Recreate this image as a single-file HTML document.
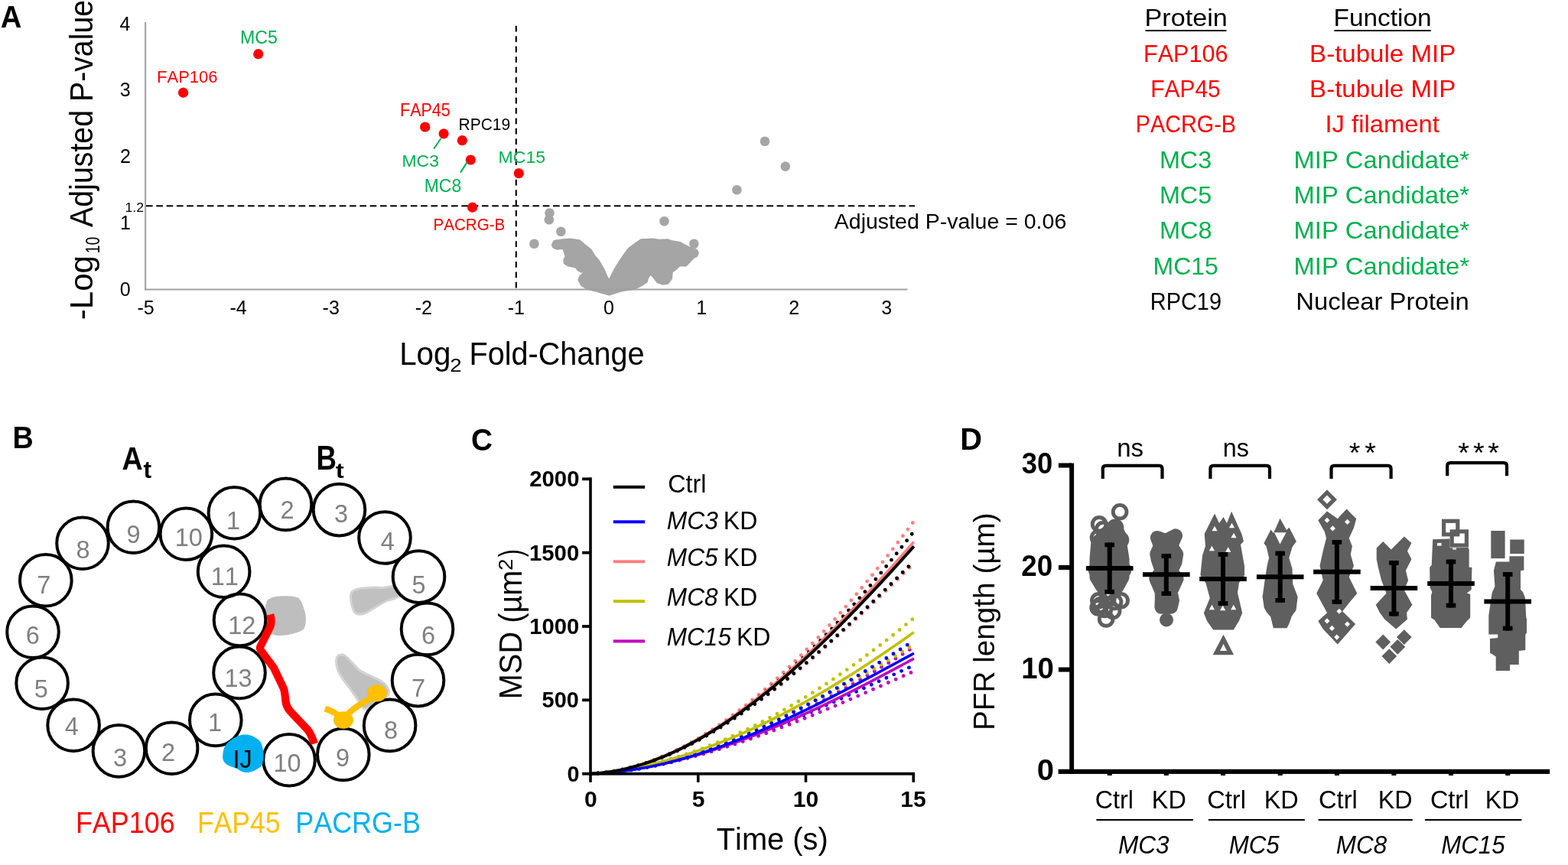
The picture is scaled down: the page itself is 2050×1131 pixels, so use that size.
<!DOCTYPE html>
<html><head><meta charset="utf-8"><title>Figure</title>
<style>html,body{margin:0;padding:0;background:#fff;}svg{display:block;}text{font-family:"Liberation Sans", sans-serif;font-kerning:none;}</style>
</head><body>
<svg width="2050" height="1131" viewBox="0 0 2050 1131">
<rect width="2050" height="1131" fill="#fff"/>
<text x="0.65" y="36" font-size="40.41" fill="#000" font-weight="bold" textLength="27.56" lengthAdjust="spacingAndGlyphs">A</text>
<path d="M721.8,319.9 L724.2,315.1 L728.2,314.3 L737,312.7 L745.7,312.3 L757.6,313.9 L765.6,320.7 L772.8,326.3 L777.5,334.2 L783.1,340.6 L789.5,351.7 L793.4,360.5 L796.3,366 L801.4,355.7 L803.5,351.7 L809.9,341.4 L816.3,331.8 L821.8,324.7 L828.2,319.9 L837.7,313.1 L853.6,312.3 L861.6,313.5 L873.5,313.1 L879.1,315.1 L889.4,316.7 L893.4,319.1 L901.4,323.1 L908,325 L912.9,331 L903,341.4 L897,347.7 L888.6,347.7 L883.9,352.5 L879.1,355.7 L878.3,364.4 L873.5,370.8 L866.4,372 L859.2,369.2 L853.6,362 L850.5,358.9 L847.3,363.6 L845.7,369.2 L837.7,374 L829.8,378 L813.9,380.4 L805.9,382.7 L797.2,385.5 L796.2,385.9 L785.5,382.8 L777.5,380.4 L767.2,378 L760,373.2 L756,366 L758.4,360.5 L764,355.7 L759.2,355.7 L755.2,353.3 L752.9,350.1 L747.3,348.5 L742.5,347.7 L737.7,344.6 L737,339.8 L739.3,335 L737.7,330.2 L736.2,325.5 L732.2,325.5 L727.8,325.9 L722.6,323.1 Z" fill="#a5a5a5" stroke="#a5a5a5" stroke-width="1.5" stroke-linejoin="round"/>
<circle cx="718.5" cy="278.5" r="6.3" fill="#a5a5a5"/>
<circle cx="717.8" cy="287.3" r="6.3" fill="#a5a5a5"/>
<circle cx="733.4" cy="302.8" r="6.3" fill="#a5a5a5"/>
<circle cx="698.4" cy="318.7" r="6.3" fill="#a5a5a5"/>
<circle cx="868.5" cy="289.2" r="6.3" fill="#a5a5a5"/>
<circle cx="907.3" cy="318.7" r="6.3" fill="#a5a5a5"/>
<circle cx="907.3" cy="331" r="6.3" fill="#a5a5a5"/>
<circle cx="1000" cy="184.7" r="6.3" fill="#a5a5a5"/>
<circle cx="1026.8" cy="217.6" r="6.3" fill="#a5a5a5"/>
<circle cx="963.4" cy="248.3" r="6.3" fill="#a5a5a5"/>
<circle cx="727.8" cy="319.9" r="6.3" fill="#a5a5a5"/>
<line x1="190.1" y1="29" x2="190.1" y2="379.5" stroke="#a0a0a0" stroke-width="2"/>
<line x1="189.1" y1="378.6" x2="1186.4" y2="378.6" stroke="#a0a0a0" stroke-width="2"/>
<line x1="191" y1="269.3" x2="1196" y2="269.3" stroke="#000" stroke-width="2" stroke-dasharray="8.7 4.6"/>
<line x1="674.8" y1="33.8" x2="674.8" y2="381.4" stroke="#000" stroke-width="2.1" stroke-dasharray="7.8 5.6"/>
<text x="156.67" y="387.1" font-size="25" fill="#000" >0</text>
<text x="156.92" y="300.2" font-size="25" fill="#000" >1</text>
<text x="156.95" y="213.3" font-size="25" fill="#000" >2</text>
<text x="156.79" y="126.4" font-size="25" fill="#000" >3</text>
<text x="156.43" y="39.5" font-size="25" fill="#000" >4</text>
<text x="190.5" y="411" font-size="25" text-anchor="middle">-5</text>
<text x="311.6" y="411" font-size="25" text-anchor="middle">-4</text>
<text x="432.7" y="411" font-size="25" text-anchor="middle">-3</text>
<text x="553.8" y="411" font-size="25" text-anchor="middle">-2</text>
<text x="674.9" y="411" font-size="25" text-anchor="middle">-1</text>
<text x="796" y="411" font-size="25" text-anchor="middle">0</text>
<text x="917.1" y="411" font-size="25" text-anchor="middle">1</text>
<text x="1038.2" y="411" font-size="25" text-anchor="middle">2</text>
<text x="1159.3" y="411" font-size="25" text-anchor="middle">3</text>
<text x="163.46" y="276.5" font-size="16.72" fill="#000"  textLength="24.53" lengthAdjust="spacingAndGlyphs">1.2</text>
<circle cx="239.6" cy="121.2" r="6.6" fill="#ff0000"/>
<circle cx="337.7" cy="70.7" r="6.6" fill="#ff0000"/>
<circle cx="555.7" cy="166" r="6.6" fill="#ff0000"/>
<circle cx="580.1" cy="174.8" r="6.6" fill="#ff0000"/>
<circle cx="604.3" cy="183.7" r="6.6" fill="#ff0000"/>
<circle cx="615.3" cy="209" r="6.6" fill="#ff0000"/>
<circle cx="678.3" cy="226.6" r="6.6" fill="#ff0000"/>
<circle cx="617.6" cy="271.2" r="6.6" fill="#ff0000"/>
<text x="314.1" y="56.6" font-size="23.69" fill="#00b050"  textLength="48.87" lengthAdjust="spacingAndGlyphs">MC5</text>
<text x="205.1" y="108.2" font-size="22.24" fill="#ff0000"  textLength="79.47" lengthAdjust="spacingAndGlyphs">FAP106</text>
<text x="523.04" y="151.8" font-size="23.11" fill="#ff0000"  textLength="65.77" lengthAdjust="spacingAndGlyphs">FAP45</text>
<text x="599.48" y="170.4" font-size="22.38" fill="#000"  textLength="67.72" lengthAdjust="spacingAndGlyphs">RPC19</text>
<text x="525.52" y="217.8" font-size="22.67" fill="#00b050"  textLength="48.39" lengthAdjust="spacingAndGlyphs">MC3</text>
<text x="554.72" y="250.9" font-size="23.11" fill="#00b050"  textLength="48.48" lengthAdjust="spacingAndGlyphs">MC8</text>
<text x="651.61" y="213.4" font-size="22.67" fill="#00b050"  textLength="61.56" lengthAdjust="spacingAndGlyphs">MC15</text>
<text x="566.41" y="300.7" font-size="22.24" fill="#ff0000"  textLength="93.88" lengthAdjust="spacingAndGlyphs">PACRG-B</text>
<text x="1090.84" y="299" font-size="28.34" fill="#000"  textLength="303.41" lengthAdjust="spacingAndGlyphs">Adjusted P-value = 0.06</text>
<line x1="576.4" y1="181" x2="567.2" y2="194.6" stroke="#00b050" stroke-width="2"/>
<line x1="611" y1="211.6" x2="602" y2="225.6" stroke="#00b050" stroke-width="2"/>
<text x="522.19" y="477.1" font-size="42.15" fill="#000"  textLength="67.31" lengthAdjust="spacingAndGlyphs">Log</text>
<text x="588.21" y="486.4" font-size="24.64" fill="#000"  textLength="15.38" lengthAdjust="spacingAndGlyphs">2</text>
<text x="613.55" y="477.1" font-size="42.15" fill="#000"  textLength="228.91" lengthAdjust="spacingAndGlyphs">Fold-Change</text>
<text transform="translate(121.3,416.5) rotate(-90)" x="-1.87" y="0" font-size="42.44" fill="#000" textLength="84.39" lengthAdjust="spacingAndGlyphs">-Log</text>
<text transform="translate(130,330) rotate(-90)" x="-1.49" y="0" font-size="26.36" fill="#000" textLength="21.75" lengthAdjust="spacingAndGlyphs">10</text>
<text transform="translate(120.8,296.8) rotate(-90)" x="-0.08" y="0" font-size="42.15" fill="#000" textLength="297.02" lengthAdjust="spacingAndGlyphs">Adjusted P-value</text>
<text x="1496.5" y="34.4" font-size="31.69" fill="#000"  textLength="108.22" lengthAdjust="spacingAndGlyphs">Protein</text>
<text x="1743.56" y="34.4" font-size="31.69" fill="#000"  textLength="128.01" lengthAdjust="spacingAndGlyphs">Function</text>
<text x="1494.99" y="80.7" font-size="31.69" fill="#ff0000"  textLength="110.45" lengthAdjust="spacingAndGlyphs">FAP106</text>
<text x="1712.09" y="80.7" font-size="31.69" fill="#ff0000"  textLength="191.16" lengthAdjust="spacingAndGlyphs">B-tubule MIP</text>
<text x="1504.24" y="127" font-size="31.69" fill="#ff0000"  textLength="91.51" lengthAdjust="spacingAndGlyphs">FAP45</text>
<text x="1712.09" y="127" font-size="31.69" fill="#ff0000"  textLength="191.16" lengthAdjust="spacingAndGlyphs">B-tubule MIP</text>
<text x="1484.84" y="173.3" font-size="31.69" fill="#ff0000"  textLength="131.08" lengthAdjust="spacingAndGlyphs">PACRG-B</text>
<text x="1732.48" y="173.3" font-size="31.69" fill="#ff0000"  textLength="149.26" lengthAdjust="spacingAndGlyphs">IJ filament</text>
<text x="1515.95" y="219.6" font-size="31.69" fill="#00b050"  textLength="68.27" lengthAdjust="spacingAndGlyphs">MC3</text>
<text x="1691.51" y="219.6" font-size="31.69" fill="#00b050"  textLength="229.5" lengthAdjust="spacingAndGlyphs">MIP Candidate*</text>
<text x="1515.95" y="265.9" font-size="31.69" fill="#00b050"  textLength="68.21" lengthAdjust="spacingAndGlyphs">MC5</text>
<text x="1691.51" y="265.9" font-size="31.69" fill="#00b050"  textLength="229.5" lengthAdjust="spacingAndGlyphs">MIP Candidate*</text>
<text x="1515.93" y="312.2" font-size="31.69" fill="#00b050"  textLength="68.68" lengthAdjust="spacingAndGlyphs">MC8</text>
<text x="1691.51" y="312.2" font-size="31.69" fill="#00b050"  textLength="229.5" lengthAdjust="spacingAndGlyphs">MIP Candidate*</text>
<text x="1507.47" y="358.5" font-size="31.69" fill="#00b050"  textLength="85.37" lengthAdjust="spacingAndGlyphs">MC15</text>
<text x="1691.51" y="358.5" font-size="31.69" fill="#00b050"  textLength="229.5" lengthAdjust="spacingAndGlyphs">MIP Candidate*</text>
<text x="1503.83" y="404.8" font-size="31.69" fill="#000"  textLength="93.14" lengthAdjust="spacingAndGlyphs">RPC19</text>
<text x="1694.3" y="404.8" font-size="31.69" fill="#000"  textLength="226.43" lengthAdjust="spacingAndGlyphs">Nuclear Protein</text>
<rect x="1497.5" y="39" width="105.9" height="2" fill="#000"/>
<rect x="1744.4" y="39" width="126.3" height="2" fill="#000"/>
<text x="16.48" y="586" font-size="40.41" fill="#000" font-weight="bold" textLength="27.24" lengthAdjust="spacingAndGlyphs">B</text>
<text x="159.56" y="613.7" font-size="42.44" fill="#000" font-weight="bold" textLength="27.13" lengthAdjust="spacingAndGlyphs">A</text>
<text x="187.41" y="625.4" font-size="32.07" fill="#000" font-weight="bold" textLength="10.58" lengthAdjust="spacingAndGlyphs">t</text>
<text x="413.55" y="614.3" font-size="43.9" fill="#000" font-weight="bold" textLength="26.41" lengthAdjust="spacingAndGlyphs">B</text>
<text x="438.8" y="625.3" font-size="28.14" fill="#000" font-weight="bold" textLength="11.01" lengthAdjust="spacingAndGlyphs">t</text>
<path d="M347.7,790.3 C349.12,785.7 348.58,784.6 353,782.4 C357.42,780.2 363.08,779.66 369.8,779.3 C376.52,778.94 382,779.46 386.6,780.6 C391.2,781.74 390.68,782 392.8,785 C394.92,788 395.8,791.18 397.2,795.6 C398.6,800.02 399.54,802.32 399.8,807.1 C400.06,811.88 399.72,815.96 398.5,819.5 C397.28,823.04 396.8,823.02 393.7,824.8 C390.6,826.58 388.32,827.16 383,828.4 C377.68,829.64 372.4,830.84 367.1,831 C361.8,831.16 360.32,831 356.5,829.2 C352.68,827.4 350.12,826.76 348,822 C345.88,817.24 345.96,811.74 345.9,805.4 C345.84,799.06 346.28,794.9 347.7,790.3 Z" fill="#bebebe"/>
<path d="M458.4,779.5 C458.12,784.52 460.77,796.88 463.7,800.7 C466.63,804.52 471.88,803.28 476,802.4 C480.12,801.52 483.57,798.13 488.4,795.4 C493.23,792.67 499.4,788.65 505,786 C510.6,783.35 520.05,782.67 522,779.5 C523.95,776.33 520.37,768.83 516.7,767 C513.03,765.17 504.72,768.33 500,768.5 C495.28,768.67 494.17,767.65 488.4,768 C482.63,768.35 470.4,768.68 465.4,770.6 C460.4,772.52 458.68,774.48 458.4,779.5 Z" fill="#c0c0c0" stroke="#d3d3d3" stroke-width="3" stroke-linejoin="round"/>
<path d="M440.7,859 C442.17,856.2 446.28,855.23 449.5,856.4 C452.72,857.57 456.47,862.62 460,866 C463.53,869.38 466.53,873.7 470.7,876.7 C474.87,879.7 480.28,881.63 485,884 C489.72,886.37 495.18,887.98 499,890.9 C502.82,893.82 506.72,898.27 507.9,901.5 C509.08,904.73 508.75,907.65 506.1,910.3 C503.45,912.95 496.72,914.6 492,917.4 C487.28,920.2 481.35,926.8 477.8,927.1 C474.25,927.4 473.93,923.47 470.7,919.2 C467.47,914.93 462.35,907.03 458.4,901.5 C454.45,895.97 449.95,890.72 447,886 C444.05,881.28 441.75,877.7 440.7,873.2 C439.65,868.7 439.23,861.8 440.7,859 Z" fill="#c0c0c0" stroke="#d3d3d3" stroke-width="3" stroke-linejoin="round"/>
<circle cx="281.8" cy="941.4" r="33.8" fill="none" stroke="#000" stroke-width="4"/>
<circle cx="224.6" cy="978.2" r="33.8" fill="none" stroke="#000" stroke-width="4"/>
<circle cx="155.4" cy="981.9" r="33.8" fill="none" stroke="#000" stroke-width="4"/>
<circle cx="96.1" cy="948.2" r="33.8" fill="none" stroke="#000" stroke-width="4"/>
<circle cx="55.1" cy="893.3" r="33.8" fill="none" stroke="#000" stroke-width="4"/>
<circle cx="43" cy="826.2" r="33.8" fill="none" stroke="#000" stroke-width="4"/>
<circle cx="59.8" cy="758.8" r="33.8" fill="none" stroke="#000" stroke-width="4"/>
<circle cx="108" cy="710.3" r="33.8" fill="none" stroke="#000" stroke-width="4"/>
<circle cx="174.4" cy="689.2" r="33.8" fill="none" stroke="#000" stroke-width="4"/>
<circle cx="243.4" cy="698.2" r="33.8" fill="none" stroke="#000" stroke-width="4"/>
<circle cx="292.6" cy="747.2" r="33.8" fill="none" stroke="#000" stroke-width="4"/>
<circle cx="313.5" cy="810.4" r="33.8" fill="none" stroke="#000" stroke-width="4"/>
<circle cx="313" cy="879.4" r="33.8" fill="none" stroke="#000" stroke-width="4"/>
<circle cx="306.4" cy="670.8" r="33.8" fill="none" stroke="#000" stroke-width="4"/>
<circle cx="373.5" cy="659.4" r="33.8" fill="none" stroke="#000" stroke-width="4"/>
<circle cx="443.5" cy="666.6" r="33.8" fill="none" stroke="#000" stroke-width="4"/>
<circle cx="503" cy="703" r="33.8" fill="none" stroke="#000" stroke-width="4"/>
<circle cx="547.5" cy="754.1" r="33.8" fill="none" stroke="#000" stroke-width="4"/>
<circle cx="558.5" cy="822.4" r="33.8" fill="none" stroke="#000" stroke-width="4"/>
<circle cx="546.5" cy="889.6" r="33.8" fill="none" stroke="#000" stroke-width="4"/>
<circle cx="509.6" cy="948.4" r="33.8" fill="none" stroke="#000" stroke-width="4"/>
<circle cx="448.8" cy="986.4" r="33.8" fill="none" stroke="#000" stroke-width="4"/>
<circle cx="378" cy="993.7" r="33.8" fill="none" stroke="#000" stroke-width="4"/>
<text x="272.02" y="956.4" font-size="32.5" fill="#808080" >1</text>
<text x="211.06" y="994.6" font-size="32.5" fill="#808080" >2</text>
<text x="148.06" y="1001.5" font-size="32.5" fill="#808080" >3</text>
<text x="84.67" y="961" font-size="32.5" fill="#808080" >4</text>
<text x="44.79" y="912.2" font-size="32.5" fill="#808080" >5</text>
<text x="33.75" y="842.4" font-size="32.5" fill="#808080" >6</text>
<text x="48.25" y="776.3" font-size="32.5" fill="#808080" >7</text>
<text x="99.46" y="730.2" font-size="32.5" fill="#808080" >8</text>
<text x="165.47" y="709.6" font-size="32.5" fill="#808080" >9</text>
<text x="228.72" y="713.8" font-size="32.5" fill="#808080" >10</text>
<text x="275.68" y="765" font-size="32.5" fill="#808080" >11</text>
<text x="298.3" y="829" font-size="32.5" fill="#808080" >12</text>
<text x="293.4" y="897.7" font-size="32.5" fill="#808080" >13</text>
<text x="295.92" y="691.6" font-size="32.5" fill="#808080" >1</text>
<text x="366.56" y="678.4" font-size="32.5" fill="#808080" >2</text>
<text x="437.06" y="683.4" font-size="32.5" fill="#808080" >3</text>
<text x="497.77" y="718.9" font-size="32.5" fill="#808080" >4</text>
<text x="538.59" y="775.7" font-size="32.5" fill="#808080" >5</text>
<text x="551.05" y="841.5" font-size="32.5" fill="#808080" >6</text>
<text x="537.95" y="911.2" font-size="32.5" fill="#808080" >7</text>
<text x="501.96" y="966.1" font-size="32.5" fill="#808080" >8</text>
<text x="438.97" y="1002.3" font-size="32.5" fill="#808080" >9</text>
<text x="357.42" y="1008.8" font-size="32.5" fill="#808080" >10</text>
<path d="M353.3,803.5 C354.8,809 355.5,814 353,820 L340.3,845.5 C339.5,847.5 340,849 341.5,851 L358,873.2 L371,900.6 C372.5,905 372.8,912 373.6,918 C374.5,923 376,926 379,929.5 L402.5,954.5 C406,959 408.5,965 411,972.5" fill="none" stroke="#ff0000" stroke-width="10.2" stroke-linejoin="round"/>
<path d="M424.8,926.7 Q436,930 446,938" fill="none" stroke="#ffc000" stroke-width="8"/>
<path d="M452,936 Q466,922 488,912" fill="none" stroke="#ffc000" stroke-width="8"/>
<ellipse cx="492.8" cy="906.4" rx="12.9" ry="11.2" fill="#ffc000"/>
<ellipse cx="449" cy="941.5" rx="13" ry="11.3" fill="#ffc000"/>
<path d="M298.4,970.5 C303.72,965.68 310.56,961.44 318.2,960.6 C325.84,959.76 331.52,962.62 336.6,966.3 C341.68,969.98 342.2,973.06 343.6,979 C345,984.94 344.72,990.9 343.6,996 C342.48,1001.1 342.24,1001.68 338,1004.5 C333.76,1007.32 328.34,1010.1 322.4,1010.1 C316.46,1010.1 313.96,1007.04 308.3,1004.5 C302.64,1001.96 297.44,1001.36 294.1,997.4 C290.76,993.44 290.74,990.08 291.6,984.7 C292.46,979.32 293.08,975.32 298.4,970.5 Z" fill="#00b0f0"/>
<text x="304.61" y="1003.6" font-size="32.99" fill="#000"  textLength="25.19" lengthAdjust="spacingAndGlyphs">IJ</text>
<text x="98.95" y="1089.3" font-size="38.37" fill="#ff0000"  textLength="129.72" lengthAdjust="spacingAndGlyphs">FAP106</text>
<text x="257.88" y="1089.3" font-size="38.37" fill="#ffc000"  textLength="108.71" lengthAdjust="spacingAndGlyphs">FAP45</text>
<text x="386.25" y="1089.3" font-size="38.37" fill="#00b0f0"  textLength="163.64" lengthAdjust="spacingAndGlyphs">PACRG-B</text>
<text x="616.11" y="589.4" font-size="41.2" fill="#000" font-weight="bold" textLength="28.06" lengthAdjust="spacingAndGlyphs">C</text>
<path d="M781.85,1011.13 L784.62,1010.93 L787.39,1010.72 L790.16,1010.49 L792.92,1010.25 L795.69,1009.99 L798.46,1009.72 L801.23,1009.43 L803.99,1009.12 L806.76,1008.81 L809.53,1008.47 L812.3,1008.12 L815.07,1007.76 L817.83,1007.38 L820.6,1006.99 L823.37,1006.58 L826.14,1006.16 L828.9,1005.72 L831.67,1005.27 L834.44,1004.81 L837.21,1004.33 L839.98,1003.83 L842.74,1003.32 L845.51,1002.8 L848.28,1002.26 L851.05,1001.71 L853.81,1001.15 L856.58,1000.57 L859.35,999.98 L862.12,999.37 L864.89,998.75 L867.65,998.12 L870.42,997.47 L873.19,996.81 L875.96,996.13 L878.72,995.44 L881.49,994.74 L884.26,994.03 L887.03,993.3 L889.8,992.56 L892.56,991.8 L895.33,991.03 L898.1,990.25 L900.87,989.46 L903.63,988.65 L906.4,987.83 L909.17,987 L911.94,986.16 L914.71,985.3 L917.47,984.43 L920.24,983.55 L923.01,982.65 L925.78,981.74 L928.54,980.82 L931.31,979.89 L934.08,978.95 L936.85,977.99 L939.62,977.02 L942.38,976.04 L945.15,975.05 L947.92,974.05 L950.69,973.03 L953.45,972.01 L956.22,970.97 L958.99,969.92 L961.76,968.85 L964.53,967.78 L967.29,966.7 L970.06,965.6 L972.83,964.49 L975.6,963.38 L978.36,962.25 L981.13,961.11 L983.9,959.96 L986.67,958.79 L989.44,957.62 L992.2,956.44 L994.97,955.24 L997.74,954.04 L1000.51,952.83 L1003.27,951.6 L1006.04,950.36 L1008.81,949.12 L1011.58,947.86 L1014.35,946.6 L1017.11,945.32 L1019.88,944.04 L1022.65,942.74 L1025.42,941.43 L1028.18,940.12 L1030.95,938.79 L1033.72,937.46 L1036.49,936.11 L1039.25,934.76 L1042.02,933.4 L1044.79,932.03 L1047.56,930.64 L1050.33,929.25 L1053.09,927.85 L1055.86,926.45 L1058.63,925.03 L1061.4,923.6 L1064.16,922.17 L1066.93,920.72 L1069.7,919.27 L1072.47,917.81 L1075.24,916.34 L1078,914.87 L1080.77,913.38 L1083.54,911.89 L1086.31,910.38 L1089.07,908.88 L1091.84,907.36 L1094.61,905.83 L1097.38,904.3 L1100.15,902.76 L1102.91,901.21 L1105.68,899.65 L1108.45,898.09 L1111.22,896.52 L1113.98,894.94 L1116.75,893.35 L1119.52,891.76 L1122.29,890.16 L1125.06,888.56 L1127.82,886.94 L1130.59,885.32 L1133.36,883.7 L1136.13,882.06 L1138.89,880.42 L1141.66,878.78 L1144.43,877.12 L1147.2,875.46 L1149.97,873.8 L1152.73,872.13 L1155.5,870.45 L1158.27,868.77 L1161.04,867.08 L1163.8,865.38 L1166.57,863.68 L1169.34,861.97 L1172.11,860.26 L1174.88,858.55 L1177.64,856.82 L1180.41,855.1 L1183.18,853.36 L1185.95,851.62 L1188.71,849.88 L1191.48,848.13 L1194.25,846.38" fill="none" stroke="#c000c0" stroke-width="4.9" stroke-linecap="round" stroke-dasharray="0 10.8"/>
<path d="M781.85,1011.13 L784.62,1010.93 L787.39,1010.72 L790.16,1010.5 L792.92,1010.26 L795.69,1010.01 L798.46,1009.74 L801.23,1009.46 L803.99,1009.16 L806.76,1008.86 L809.53,1008.53 L812.3,1008.19 L815.07,1007.84 L817.83,1007.48 L820.6,1007.1 L823.37,1006.71 L826.14,1006.31 L828.9,1005.89 L831.67,1005.46 L834.44,1005.02 L837.21,1004.56 L839.98,1004.09 L842.74,1003.61 L845.51,1003.12 L848.28,1002.62 L851.05,1002.1 L853.81,1001.57 L856.58,1001.03 L859.35,1000.48 L862.12,999.91 L864.89,999.34 L867.65,998.75 L870.42,998.15 L873.19,997.54 L875.96,996.92 L878.72,996.29 L881.49,995.64 L884.26,994.99 L887.03,994.32 L889.8,993.65 L892.56,992.96 L895.33,992.27 L898.1,991.56 L900.87,990.84 L903.63,990.12 L906.4,989.38 L909.17,988.63 L911.94,987.88 L914.71,987.11 L917.47,986.34 L920.24,985.55 L923.01,984.76 L925.78,983.95 L928.54,983.14 L931.31,982.32 L934.08,981.49 L936.85,980.65 L939.62,979.8 L942.38,978.95 L945.15,978.08 L947.92,977.21 L950.69,976.33 L953.45,975.44 L956.22,974.54 L958.99,973.64 L961.76,972.72 L964.53,971.8 L967.29,970.87 L970.06,969.94 L972.83,969 L975.6,968.04 L978.36,967.09 L981.13,966.12 L983.9,965.15 L986.67,964.17 L989.44,963.18 L992.2,962.19 L994.97,961.19 L997.74,960.19 L1000.51,959.17 L1003.27,958.15 L1006.04,957.13 L1008.81,956.1 L1011.58,955.06 L1014.35,954.02 L1017.11,952.97 L1019.88,951.91 L1022.65,950.85 L1025.42,949.79 L1028.18,948.72 L1030.95,947.64 L1033.72,946.56 L1036.49,945.47 L1039.25,944.38 L1042.02,943.28 L1044.79,942.18 L1047.56,941.07 L1050.33,939.96 L1053.09,938.84 L1055.86,937.72 L1058.63,936.6 L1061.4,935.47 L1064.16,934.34 L1066.93,933.2 L1069.7,932.06 L1072.47,930.91 L1075.24,929.76 L1078,928.61 L1080.77,927.45 L1083.54,926.29 L1086.31,925.12 L1089.07,923.96 L1091.84,922.79 L1094.61,921.61 L1097.38,920.43 L1100.15,919.25 L1102.91,918.07 L1105.68,916.89 L1108.45,915.7 L1111.22,914.5 L1113.98,913.31 L1116.75,912.11 L1119.52,910.91 L1122.29,909.71 L1125.06,908.51 L1127.82,907.3 L1130.59,906.1 L1133.36,904.89 L1136.13,903.67 L1138.89,902.46 L1141.66,901.25 L1144.43,900.03 L1147.2,898.81 L1149.97,897.59 L1152.73,896.37 L1155.5,895.15 L1158.27,893.92 L1161.04,892.7 L1163.8,891.47 L1166.57,890.24 L1169.34,889.02 L1172.11,887.79 L1174.88,886.56 L1177.64,885.33 L1180.41,884.1 L1183.18,882.87 L1185.95,881.64 L1188.71,880.41 L1191.48,879.17 L1194.25,877.94" fill="none" stroke="#c000c0" stroke-width="4.9" stroke-linecap="round" stroke-dasharray="0 10.8"/>
<path d="M781.85,1010.87 L784.62,1010.59 L787.39,1010.31 L790.16,1010 L792.92,1009.68 L795.69,1009.34 L798.46,1008.99 L801.23,1008.62 L803.99,1008.24 L806.76,1007.84 L809.53,1007.42 L812.3,1006.98 L815.07,1006.53 L817.83,1006.07 L820.6,1005.59 L823.37,1005.09 L826.14,1004.58 L828.9,1004.05 L831.67,1003.5 L834.44,1002.94 L837.21,1002.36 L839.98,1001.77 L842.74,1001.16 L845.51,1000.54 L848.28,999.9 L851.05,999.24 L853.81,998.57 L856.58,997.88 L859.35,997.18 L862.12,996.46 L864.89,995.73 L867.65,994.98 L870.42,994.22 L873.19,993.44 L875.96,992.64 L878.72,991.83 L881.49,991.01 L884.26,990.16 L887.03,989.31 L889.8,988.44 L892.56,987.55 L895.33,986.65 L898.1,985.73 L900.87,984.8 L903.63,983.85 L906.4,982.89 L909.17,981.92 L911.94,980.92 L914.71,979.92 L917.47,978.9 L920.24,977.86 L923.01,976.81 L925.78,975.74 L928.54,974.66 L931.31,973.57 L934.08,972.46 L936.85,971.33 L939.62,970.19 L942.38,969.04 L945.15,967.87 L947.92,966.69 L950.69,965.49 L953.45,964.28 L956.22,963.06 L958.99,961.82 L961.76,960.56 L964.53,959.3 L967.29,958.01 L970.06,956.72 L972.83,955.41 L975.6,954.08 L978.36,952.74 L981.13,951.39 L983.9,950.02 L986.67,948.64 L989.44,947.25 L992.2,945.84 L994.97,944.42 L997.74,942.98 L1000.51,941.53 L1003.27,940.07 L1006.04,938.59 L1008.81,937.1 L1011.58,935.6 L1014.35,934.08 L1017.11,932.55 L1019.88,931 L1022.65,929.45 L1025.42,927.88 L1028.18,926.29 L1030.95,924.69 L1033.72,923.08 L1036.49,921.46 L1039.25,919.82 L1042.02,918.17 L1044.79,916.51 L1047.56,914.83 L1050.33,913.14 L1053.09,911.44 L1055.86,909.72 L1058.63,908 L1061.4,906.25 L1064.16,904.5 L1066.93,902.73 L1069.7,900.96 L1072.47,899.16 L1075.24,897.36 L1078,895.54 L1080.77,893.71 L1083.54,891.87 L1086.31,890.02 L1089.07,888.15 L1091.84,886.27 L1094.61,884.38 L1097.38,882.48 L1100.15,880.56 L1102.91,878.63 L1105.68,876.7 L1108.45,874.74 L1111.22,872.78 L1113.98,870.8 L1116.75,868.82 L1119.52,866.82 L1122.29,864.81 L1125.06,862.78 L1127.82,860.75 L1130.59,858.7 L1133.36,856.64 L1136.13,854.57 L1138.89,852.49 L1141.66,850.4 L1144.43,848.3 L1147.2,846.18 L1149.97,844.06 L1152.73,841.92 L1155.5,839.77 L1158.27,837.61 L1161.04,835.44 L1163.8,833.25 L1166.57,831.06 L1169.34,828.86 L1172.11,826.64 L1174.88,824.41 L1177.64,822.18 L1180.41,819.93 L1183.18,817.67 L1185.95,815.4 L1188.71,813.12 L1191.48,810.83 L1194.25,808.53" fill="none" stroke="#c0c000" stroke-width="4.9" stroke-linecap="round" stroke-dasharray="0 10.8"/>
<path d="M781.85,1010.87 L784.62,1010.6 L787.39,1010.32 L790.16,1010.02 L792.92,1009.7 L795.69,1009.37 L798.46,1009.02 L801.23,1008.66 L803.99,1008.29 L806.76,1007.89 L809.53,1007.49 L812.3,1007.07 L815.07,1006.63 L817.83,1006.18 L820.6,1005.72 L823.37,1005.24 L826.14,1004.75 L828.9,1004.24 L831.67,1003.72 L834.44,1003.18 L837.21,1002.63 L839.98,1002.07 L842.74,1001.49 L845.51,1000.9 L848.28,1000.29 L851.05,999.67 L853.81,999.04 L856.58,998.39 L859.35,997.73 L862.12,997.06 L864.89,996.38 L867.65,995.68 L870.42,994.96 L873.19,994.24 L875.96,993.5 L878.72,992.75 L881.49,991.99 L884.26,991.21 L887.03,990.42 L889.8,989.62 L892.56,988.81 L895.33,987.99 L898.1,987.15 L900.87,986.3 L903.63,985.44 L906.4,984.56 L909.17,983.68 L911.94,982.78 L914.71,981.87 L917.47,980.95 L920.24,980.02 L923.01,979.07 L925.78,978.12 L928.54,977.15 L931.31,976.17 L934.08,975.18 L936.85,974.18 L939.62,973.17 L942.38,972.15 L945.15,971.12 L947.92,970.08 L950.69,969.02 L953.45,967.96 L956.22,966.88 L958.99,965.79 L961.76,964.7 L964.53,963.59 L967.29,962.48 L970.06,961.35 L972.83,960.21 L975.6,959.06 L978.36,957.91 L981.13,956.74 L983.9,955.56 L986.67,954.38 L989.44,953.18 L992.2,951.98 L994.97,950.76 L997.74,949.54 L1000.51,948.3 L1003.27,947.06 L1006.04,945.81 L1008.81,944.55 L1011.58,943.28 L1014.35,942 L1017.11,940.71 L1019.88,939.42 L1022.65,938.11 L1025.42,936.8 L1028.18,935.48 L1030.95,934.15 L1033.72,932.81 L1036.49,931.46 L1039.25,930.1 L1042.02,928.74 L1044.79,927.37 L1047.56,925.99 L1050.33,924.6 L1053.09,923.2 L1055.86,921.8 L1058.63,920.39 L1061.4,918.97 L1064.16,917.54 L1066.93,916.11 L1069.7,914.67 L1072.47,913.22 L1075.24,911.76 L1078,910.3 L1080.77,908.83 L1083.54,907.35 L1086.31,905.87 L1089.07,904.37 L1091.84,902.88 L1094.61,901.37 L1097.38,899.86 L1100.15,898.34 L1102.91,896.82 L1105.68,895.28 L1108.45,893.75 L1111.22,892.2 L1113.98,890.65 L1116.75,889.09 L1119.52,887.53 L1122.29,885.96 L1125.06,884.39 L1127.82,882.8 L1130.59,881.22 L1133.36,879.62 L1136.13,878.03 L1138.89,876.42 L1141.66,874.81 L1144.43,873.2 L1147.2,871.58 L1149.97,869.95 L1152.73,868.32 L1155.5,866.68 L1158.27,865.04 L1161.04,863.39 L1163.8,861.74 L1166.57,860.08 L1169.34,858.42 L1172.11,856.75 L1174.88,855.08 L1177.64,853.41 L1180.41,851.72 L1183.18,850.04 L1185.95,848.35 L1188.71,846.65 L1191.48,844.96 L1194.25,843.25" fill="none" stroke="#c0c000" stroke-width="4.9" stroke-linecap="round" stroke-dasharray="0 10.8"/>
<path d="M781.85,1011.04 L784.62,1010.77 L787.39,1010.48 L790.16,1010.16 L792.92,1009.8 L795.69,1009.41 L798.46,1008.99 L801.23,1008.53 L803.99,1008.05 L806.76,1007.53 L809.53,1006.98 L812.3,1006.4 L815.07,1005.79 L817.83,1005.15 L820.6,1004.48 L823.37,1003.78 L826.14,1003.04 L828.9,1002.28 L831.67,1001.49 L834.44,1000.66 L837.21,999.81 L839.98,998.93 L842.74,998.01 L845.51,997.07 L848.28,996.1 L851.05,995.1 L853.81,994.06 L856.58,993 L859.35,991.91 L862.12,990.8 L864.89,989.65 L867.65,988.47 L870.42,987.27 L873.19,986.04 L875.96,984.78 L878.72,983.49 L881.49,982.17 L884.26,980.83 L887.03,979.45 L889.8,978.05 L892.56,976.63 L895.33,975.17 L898.1,973.69 L900.87,972.18 L903.63,970.64 L906.4,969.08 L909.17,967.49 L911.94,965.87 L914.71,964.23 L917.47,962.56 L920.24,960.86 L923.01,959.14 L925.78,957.39 L928.54,955.62 L931.31,953.81 L934.08,951.99 L936.85,950.14 L939.62,948.26 L942.38,946.35 L945.15,944.43 L947.92,942.47 L950.69,940.49 L953.45,938.49 L956.22,936.46 L958.99,934.41 L961.76,932.33 L964.53,930.23 L967.29,928.1 L970.06,925.95 L972.83,923.78 L975.6,921.58 L978.36,919.35 L981.13,917.11 L983.9,914.84 L986.67,912.54 L989.44,910.22 L992.2,907.88 L994.97,905.52 L997.74,903.13 L1000.51,900.72 L1003.27,898.29 L1006.04,895.83 L1008.81,893.36 L1011.58,890.86 L1014.35,888.33 L1017.11,885.79 L1019.88,883.22 L1022.65,880.63 L1025.42,878.02 L1028.18,875.39 L1030.95,872.73 L1033.72,870.06 L1036.49,867.36 L1039.25,864.64 L1042.02,861.9 L1044.79,859.14 L1047.56,856.36 L1050.33,853.55 L1053.09,850.73 L1055.86,847.89 L1058.63,845.02 L1061.4,842.14 L1064.16,839.23 L1066.93,836.31 L1069.7,833.36 L1072.47,830.4 L1075.24,827.41 L1078,824.41 L1080.77,821.39 L1083.54,818.34 L1086.31,815.28 L1089.07,812.2 L1091.84,809.1 L1094.61,805.98 L1097.38,802.85 L1100.15,799.69 L1102.91,796.52 L1105.68,793.32 L1108.45,790.11 L1111.22,786.89 L1113.98,783.64 L1116.75,780.37 L1119.52,777.09 L1122.29,773.79 L1125.06,770.48 L1127.82,767.14 L1130.59,763.79 L1133.36,760.43 L1136.13,757.04 L1138.89,753.64 L1141.66,750.22 L1144.43,746.79 L1147.2,743.34 L1149.97,739.87 L1152.73,736.39 L1155.5,732.89 L1158.27,729.37 L1161.04,725.84 L1163.8,722.3 L1166.57,718.74 L1169.34,715.16 L1172.11,711.57 L1174.88,707.97 L1177.64,704.35 L1180.41,700.71 L1183.18,697.06 L1185.95,693.4 L1188.71,689.72 L1191.48,686.03 L1194.25,682.32" fill="none" stroke="#ff8080" stroke-width="4.9" stroke-linecap="round" stroke-dasharray="0 10.8"/>
<path d="M781.85,1011.05 L784.62,1010.8 L787.39,1010.51 L790.16,1010.19 L792.92,1009.84 L795.69,1009.46 L798.46,1009.05 L801.23,1008.61 L803.99,1008.15 L806.76,1007.65 L809.53,1007.12 L812.3,1006.56 L815.07,1005.97 L817.83,1005.35 L820.6,1004.71 L823.37,1004.03 L826.14,1003.33 L828.9,1002.6 L831.67,1001.84 L834.44,1001.05 L837.21,1000.24 L839.98,999.4 L842.74,998.53 L845.51,997.63 L848.28,996.71 L851.05,995.76 L853.81,994.79 L856.58,993.79 L859.35,992.76 L862.12,991.71 L864.89,990.63 L867.65,989.53 L870.42,988.4 L873.19,987.25 L875.96,986.07 L878.72,984.87 L881.49,983.64 L884.26,982.39 L887.03,981.12 L889.8,979.82 L892.56,978.5 L895.33,977.15 L898.1,975.79 L900.87,974.4 L903.63,972.98 L906.4,971.55 L909.17,970.09 L911.94,968.61 L914.71,967.11 L917.47,965.59 L920.24,964.05 L923.01,962.48 L925.78,960.89 L928.54,959.29 L931.31,957.66 L934.08,956.01 L936.85,954.34 L939.62,952.66 L942.38,950.95 L945.15,949.22 L947.92,947.47 L950.69,945.71 L953.45,943.92 L956.22,942.12 L958.99,940.3 L961.76,938.46 L964.53,936.6 L967.29,934.72 L970.06,932.82 L972.83,930.91 L975.6,928.98 L978.36,927.03 L981.13,925.07 L983.9,923.09 L986.67,921.09 L989.44,919.08 L992.2,917.05 L994.97,915 L997.74,912.94 L1000.51,910.86 L1003.27,908.76 L1006.04,906.65 L1008.81,904.53 L1011.58,902.39 L1014.35,900.23 L1017.11,898.06 L1019.88,895.88 L1022.65,893.68 L1025.42,891.47 L1028.18,889.25 L1030.95,887.01 L1033.72,884.75 L1036.49,882.49 L1039.25,880.21 L1042.02,877.92 L1044.79,875.61 L1047.56,873.29 L1050.33,870.96 L1053.09,868.62 L1055.86,866.27 L1058.63,863.9 L1061.4,861.53 L1064.16,859.14 L1066.93,856.74 L1069.7,854.32 L1072.47,851.9 L1075.24,849.47 L1078,847.03 L1080.77,844.57 L1083.54,842.11 L1086.31,839.63 L1089.07,837.15 L1091.84,834.66 L1094.61,832.15 L1097.38,829.64 L1100.15,827.12 L1102.91,824.59 L1105.68,822.05 L1108.45,819.5 L1111.22,816.95 L1113.98,814.38 L1116.75,811.81 L1119.52,809.23 L1122.29,806.64 L1125.06,804.05 L1127.82,801.44 L1130.59,798.83 L1133.36,796.22 L1136.13,793.59 L1138.89,790.96 L1141.66,788.32 L1144.43,785.68 L1147.2,783.03 L1149.97,780.38 L1152.73,777.72 L1155.5,775.05 L1158.27,772.38 L1161.04,769.7 L1163.8,767.02 L1166.57,764.33 L1169.34,761.64 L1172.11,758.94 L1174.88,756.24 L1177.64,753.53 L1180.41,750.82 L1183.18,748.11 L1185.95,745.39 L1188.71,742.67 L1191.48,739.95 L1194.25,737.22" fill="none" stroke="#ff8080" stroke-width="4.9" stroke-linecap="round" stroke-dasharray="0 10.8"/>
<path d="M781.85,1011.29 L784.62,1011.14 L787.39,1010.96 L790.16,1010.77 L792.92,1010.55 L795.69,1010.32 L798.46,1010.08 L801.23,1009.81 L803.99,1009.53 L806.76,1009.22 L809.53,1008.9 L812.3,1008.57 L815.07,1008.21 L817.83,1007.84 L820.6,1007.45 L823.37,1007.04 L826.14,1006.62 L828.9,1006.18 L831.67,1005.72 L834.44,1005.25 L837.21,1004.75 L839.98,1004.24 L842.74,1003.72 L845.51,1003.18 L848.28,1002.62 L851.05,1002.04 L853.81,1001.45 L856.58,1000.85 L859.35,1000.22 L862.12,999.59 L864.89,998.93 L867.65,998.26 L870.42,997.57 L873.19,996.87 L875.96,996.15 L878.72,995.42 L881.49,994.67 L884.26,993.91 L887.03,993.13 L889.8,992.34 L892.56,991.53 L895.33,990.71 L898.1,989.87 L900.87,989.02 L903.63,988.15 L906.4,987.27 L909.17,986.37 L911.94,985.46 L914.71,984.54 L917.47,983.6 L920.24,982.65 L923.01,981.68 L925.78,980.7 L928.54,979.71 L931.31,978.7 L934.08,977.68 L936.85,976.65 L939.62,975.6 L942.38,974.54 L945.15,973.47 L947.92,972.39 L950.69,971.29 L953.45,970.18 L956.22,969.05 L958.99,967.92 L961.76,966.77 L964.53,965.61 L967.29,964.44 L970.06,963.25 L972.83,962.06 L975.6,960.85 L978.36,959.63 L981.13,958.4 L983.9,957.15 L986.67,955.9 L989.44,954.63 L992.2,953.36 L994.97,952.07 L997.74,950.77 L1000.51,949.46 L1003.27,948.14 L1006.04,946.81 L1008.81,945.47 L1011.58,944.12 L1014.35,942.76 L1017.11,941.39 L1019.88,940 L1022.65,938.61 L1025.42,937.21 L1028.18,935.8 L1030.95,934.38 L1033.72,932.95 L1036.49,931.51 L1039.25,930.06 L1042.02,928.6 L1044.79,927.14 L1047.56,925.66 L1050.33,924.18 L1053.09,922.69 L1055.86,921.18 L1058.63,919.68 L1061.4,918.16 L1064.16,916.63 L1066.93,915.1 L1069.7,913.56 L1072.47,912.01 L1075.24,910.45 L1078,908.88 L1080.77,907.31 L1083.54,905.73 L1086.31,904.15 L1089.07,902.55 L1091.84,900.95 L1094.61,899.34 L1097.38,897.73 L1100.15,896.11 L1102.91,894.48 L1105.68,892.85 L1108.45,891.21 L1111.22,889.56 L1113.98,887.91 L1116.75,886.25 L1119.52,884.59 L1122.29,882.92 L1125.06,881.25 L1127.82,879.57 L1130.59,877.89 L1133.36,876.2 L1136.13,874.5 L1138.89,872.8 L1141.66,871.1 L1144.43,869.39 L1147.2,867.68 L1149.97,865.96 L1152.73,864.24 L1155.5,862.51 L1158.27,860.79 L1161.04,859.05 L1163.8,857.32 L1166.57,855.58 L1169.34,853.83 L1172.11,852.09 L1174.88,850.34 L1177.64,848.59 L1180.41,846.83 L1183.18,845.07 L1185.95,843.31 L1188.71,841.55 L1191.48,839.79 L1194.25,838.02" fill="none" stroke="#0000ff" stroke-width="4.9" stroke-linecap="round" stroke-dasharray="0 10.8"/>
<path d="M781.85,1011.29 L784.62,1011.14 L787.39,1010.97 L790.16,1010.77 L792.92,1010.57 L795.69,1010.34 L798.46,1010.1 L801.23,1009.84 L803.99,1009.56 L806.76,1009.27 L809.53,1008.95 L812.3,1008.63 L815.07,1008.28 L817.83,1007.92 L820.6,1007.55 L823.37,1007.16 L826.14,1006.75 L828.9,1006.33 L831.67,1005.89 L834.44,1005.44 L837.21,1004.97 L839.98,1004.49 L842.74,1003.99 L845.51,1003.48 L848.28,1002.95 L851.05,1002.41 L853.81,1001.85 L856.58,1001.28 L859.35,1000.7 L862.12,1000.1 L864.89,999.49 L867.65,998.87 L870.42,998.23 L873.19,997.58 L875.96,996.92 L878.72,996.24 L881.49,995.55 L884.26,994.85 L887.03,994.14 L889.8,993.41 L892.56,992.68 L895.33,991.93 L898.1,991.16 L900.87,990.39 L903.63,989.61 L906.4,988.81 L909.17,988 L911.94,987.18 L914.71,986.35 L917.47,985.51 L920.24,984.66 L923.01,983.8 L925.78,982.93 L928.54,982.05 L931.31,981.16 L934.08,980.26 L936.85,979.34 L939.62,978.42 L942.38,977.49 L945.15,976.55 L947.92,975.6 L950.69,974.64 L953.45,973.68 L956.22,972.7 L958.99,971.72 L961.76,970.72 L964.53,969.72 L967.29,968.71 L970.06,967.69 L972.83,966.67 L975.6,965.63 L978.36,964.59 L981.13,963.54 L983.9,962.48 L986.67,961.42 L989.44,960.35 L992.2,959.27 L994.97,958.19 L997.74,957.09 L1000.51,956 L1003.27,954.89 L1006.04,953.78 L1008.81,952.66 L1011.58,951.54 L1014.35,950.41 L1017.11,949.27 L1019.88,948.13 L1022.65,946.99 L1025.42,945.83 L1028.18,944.68 L1030.95,943.51 L1033.72,942.35 L1036.49,941.17 L1039.25,939.99 L1042.02,938.81 L1044.79,937.63 L1047.56,936.44 L1050.33,935.24 L1053.09,934.04 L1055.86,932.84 L1058.63,931.63 L1061.4,930.42 L1064.16,929.2 L1066.93,927.98 L1069.7,926.76 L1072.47,925.54 L1075.24,924.31 L1078,923.08 L1080.77,921.84 L1083.54,920.61 L1086.31,919.37 L1089.07,918.13 L1091.84,916.88 L1094.61,915.63 L1097.38,914.39 L1100.15,913.13 L1102.91,911.88 L1105.68,910.63 L1108.45,909.37 L1111.22,908.11 L1113.98,906.85 L1116.75,905.59 L1119.52,904.33 L1122.29,903.07 L1125.06,901.8 L1127.82,900.54 L1130.59,899.27 L1133.36,898.01 L1136.13,896.74 L1138.89,895.47 L1141.66,894.21 L1144.43,892.94 L1147.2,891.67 L1149.97,890.41 L1152.73,889.14 L1155.5,887.87 L1158.27,886.61 L1161.04,885.34 L1163.8,884.08 L1166.57,882.81 L1169.34,881.55 L1172.11,880.29 L1174.88,879.03 L1177.64,877.77 L1180.41,876.51 L1183.18,875.25 L1185.95,874 L1188.71,872.74 L1191.48,871.49 L1194.25,870.24" fill="none" stroke="#0000ff" stroke-width="4.9" stroke-linecap="round" stroke-dasharray="0 10.8"/>
<path d="M781.85,1011.05 L784.62,1010.79 L787.39,1010.51 L790.16,1010.19 L792.92,1009.84 L795.69,1009.45 L798.46,1009.04 L801.23,1008.6 L803.99,1008.12 L806.76,1007.62 L809.53,1007.08 L812.3,1006.52 L815.07,1005.92 L817.83,1005.3 L820.6,1004.64 L823.37,1003.96 L826.14,1003.24 L828.9,1002.5 L831.67,1001.73 L834.44,1000.92 L837.21,1000.09 L839.98,999.23 L842.74,998.34 L845.51,997.43 L848.28,996.48 L851.05,995.51 L853.81,994.51 L856.58,993.48 L859.35,992.42 L862.12,991.34 L864.89,990.23 L867.65,989.09 L870.42,987.92 L873.19,986.73 L875.96,985.51 L878.72,984.26 L881.49,982.99 L884.26,981.69 L887.03,980.36 L889.8,979.01 L892.56,977.63 L895.33,976.23 L898.1,974.8 L900.87,973.34 L903.63,971.86 L906.4,970.35 L909.17,968.82 L911.94,967.26 L914.71,965.68 L917.47,964.07 L920.24,962.44 L923.01,960.78 L925.78,959.1 L928.54,957.39 L931.31,955.66 L934.08,953.91 L936.85,952.13 L939.62,950.33 L942.38,948.5 L945.15,946.65 L947.92,944.78 L950.69,942.88 L953.45,940.96 L956.22,939.01 L958.99,937.04 L961.76,935.05 L964.53,933.04 L967.29,931 L970.06,928.94 L972.83,926.86 L975.6,924.76 L978.36,922.63 L981.13,920.48 L983.9,918.31 L986.67,916.12 L989.44,913.9 L992.2,911.66 L994.97,909.4 L997.74,907.12 L1000.51,904.82 L1003.27,902.5 L1006.04,900.15 L1008.81,897.78 L1011.58,895.4 L1014.35,892.99 L1017.11,890.56 L1019.88,888.11 L1022.65,885.64 L1025.42,883.14 L1028.18,880.63 L1030.95,878.1 L1033.72,875.54 L1036.49,872.97 L1039.25,870.38 L1042.02,867.76 L1044.79,865.13 L1047.56,862.47 L1050.33,859.8 L1053.09,857.1 L1055.86,854.39 L1058.63,851.66 L1061.4,848.91 L1064.16,846.13 L1066.93,843.34 L1069.7,840.53 L1072.47,837.7 L1075.24,834.85 L1078,831.99 L1080.77,829.1 L1083.54,826.2 L1086.31,823.27 L1089.07,820.33 L1091.84,817.37 L1094.61,814.39 L1097.38,811.39 L1100.15,808.38 L1102.91,805.35 L1105.68,802.3 L1108.45,799.23 L1111.22,796.14 L1113.98,793.03 L1116.75,789.91 L1119.52,786.77 L1122.29,783.61 L1125.06,780.44 L1127.82,777.25 L1130.59,774.04 L1133.36,770.81 L1136.13,767.57 L1138.89,764.31 L1141.66,761.03 L1144.43,757.74 L1147.2,754.43 L1149.97,751.1 L1152.73,747.75 L1155.5,744.39 L1158.27,741.02 L1161.04,737.62 L1163.8,734.22 L1166.57,730.79 L1169.34,727.35 L1172.11,723.89 L1174.88,720.42 L1177.64,716.93 L1180.41,713.43 L1183.18,709.91 L1185.95,706.37 L1188.71,702.82 L1191.48,699.26 L1194.25,695.67" fill="none" stroke="#000" stroke-width="4.9" stroke-linecap="round" stroke-dasharray="0 10.8"/>
<path d="M781.85,1011.05 L784.62,1010.79 L787.39,1010.51 L790.16,1010.19 L792.92,1009.84 L795.69,1009.46 L798.46,1009.05 L801.23,1008.61 L803.99,1008.14 L806.76,1007.64 L809.53,1007.11 L812.3,1006.55 L815.07,1005.96 L817.83,1005.35 L820.6,1004.7 L823.37,1004.02 L826.14,1003.32 L828.9,1002.59 L831.67,1001.83 L834.44,1001.04 L837.21,1000.22 L839.98,999.38 L842.74,998.51 L845.51,997.61 L848.28,996.68 L851.05,995.73 L853.81,994.76 L856.58,993.75 L859.35,992.72 L862.12,991.67 L864.89,990.58 L867.65,989.48 L870.42,988.34 L873.19,987.19 L875.96,986 L878.72,984.8 L881.49,983.57 L884.26,982.31 L887.03,981.03 L889.8,979.73 L892.56,978.4 L895.33,977.05 L898.1,975.68 L900.87,974.28 L903.63,972.86 L906.4,971.42 L909.17,969.95 L911.94,968.47 L914.71,966.96 L917.47,965.43 L920.24,963.87 L923.01,962.3 L925.78,960.7 L928.54,959.09 L931.31,957.45 L934.08,955.79 L936.85,954.11 L939.62,952.42 L942.38,950.7 L945.15,948.96 L947.92,947.2 L950.69,945.42 L953.45,943.62 L956.22,941.81 L958.99,939.97 L961.76,938.12 L964.53,936.24 L967.29,934.35 L970.06,932.44 L972.83,930.51 L975.6,928.57 L978.36,926.61 L981.13,924.62 L983.9,922.63 L986.67,920.61 L989.44,918.58 L992.2,916.53 L994.97,914.47 L997.74,912.39 L1000.51,910.29 L1003.27,908.17 L1006.04,906.05 L1008.81,903.9 L1011.58,901.74 L1014.35,899.57 L1017.11,897.38 L1019.88,895.17 L1022.65,892.95 L1025.42,890.72 L1028.18,888.47 L1030.95,886.21 L1033.72,883.93 L1036.49,881.64 L1039.25,879.33 L1042.02,877.02 L1044.79,874.69 L1047.56,872.34 L1050.33,869.99 L1053.09,867.62 L1055.86,865.24 L1058.63,862.85 L1061.4,860.44 L1064.16,858.02 L1066.93,855.59 L1069.7,853.15 L1072.47,850.7 L1075.24,848.24 L1078,845.76 L1080.77,843.28 L1083.54,840.78 L1086.31,838.28 L1089.07,835.76 L1091.84,833.23 L1094.61,830.7 L1097.38,828.15 L1100.15,825.6 L1102.91,823.03 L1105.68,820.46 L1108.45,817.87 L1111.22,815.28 L1113.98,812.68 L1116.75,810.07 L1119.52,807.45 L1122.29,804.83 L1125.06,802.19 L1127.82,799.55 L1130.59,796.9 L1133.36,794.25 L1136.13,791.58 L1138.89,788.91 L1141.66,786.23 L1144.43,783.55 L1147.2,780.86 L1149.97,778.16 L1152.73,775.45 L1155.5,772.74 L1158.27,770.03 L1161.04,767.3 L1163.8,764.58 L1166.57,761.84 L1169.34,759.1 L1172.11,756.36 L1174.88,753.61 L1177.64,750.86 L1180.41,748.1 L1183.18,745.34 L1185.95,742.57 L1188.71,739.8 L1191.48,737.03 L1194.25,734.25" fill="none" stroke="#000" stroke-width="4.9" stroke-linecap="round" stroke-dasharray="0 10.8"/>
<path d="M772,1011.7 L774.84,1011.56 L777.68,1011.39 L780.51,1011.22 L783.35,1011.02 L786.19,1010.81 L789.03,1010.59 L791.86,1010.35 L794.7,1010.09 L797.54,1009.82 L800.38,1009.53 L803.21,1009.23 L806.05,1008.91 L808.89,1008.58 L811.73,1008.23 L814.57,1007.87 L817.4,1007.49 L820.24,1007.09 L823.08,1006.69 L825.92,1006.26 L828.75,1005.83 L831.59,1005.38 L834.43,1004.91 L837.27,1004.43 L840.1,1003.94 L842.94,1003.43 L845.78,1002.9 L848.62,1002.37 L851.45,1001.82 L854.29,1001.25 L857.13,1000.68 L859.97,1000.08 L862.81,999.48 L865.64,998.86 L868.48,998.23 L871.32,997.59 L874.16,996.93 L876.99,996.26 L879.83,995.58 L882.67,994.88 L885.51,994.17 L888.34,993.45 L891.18,992.72 L894.02,991.97 L896.86,991.21 L899.7,990.44 L902.53,989.66 L905.37,988.86 L908.21,988.05 L911.05,987.24 L913.88,986.4 L916.72,985.56 L919.56,984.71 L922.4,983.84 L925.23,982.97 L928.07,982.08 L930.91,981.18 L933.75,980.27 L936.58,979.34 L939.42,978.41 L942.26,977.47 L945.1,976.51 L947.94,975.55 L950.77,974.57 L953.61,973.59 L956.45,972.59 L959.29,971.58 L962.12,970.57 L964.96,969.54 L967.8,968.5 L970.64,967.45 L973.47,966.4 L976.31,965.33 L979.15,964.25 L981.99,963.17 L984.83,962.07 L987.66,960.97 L990.5,959.85 L993.34,958.73 L996.18,957.59 L999.01,956.45 L1001.85,955.3 L1004.69,954.14 L1007.53,952.97 L1010.36,951.8 L1013.2,950.61 L1016.04,949.42 L1018.88,948.21 L1021.72,947 L1024.55,945.78 L1027.39,944.56 L1030.23,943.32 L1033.07,942.08 L1035.9,940.83 L1038.74,939.57 L1041.58,938.3 L1044.42,937.03 L1047.25,935.75 L1050.09,934.46 L1052.93,933.16 L1055.77,931.86 L1058.6,930.55 L1061.44,929.23 L1064.28,927.91 L1067.12,926.58 L1069.96,925.24 L1072.79,923.89 L1075.63,922.54 L1078.47,921.19 L1081.31,919.82 L1084.14,918.45 L1086.98,917.08 L1089.82,915.69 L1092.66,914.31 L1095.49,912.91 L1098.33,911.51 L1101.17,910.11 L1104.01,908.69 L1106.85,907.28 L1109.68,905.85 L1112.52,904.43 L1115.36,902.99 L1118.2,901.56 L1121.03,900.11 L1123.87,898.66 L1126.71,897.21 L1129.55,895.75 L1132.38,894.29 L1135.22,892.82 L1138.06,891.35 L1140.9,889.87 L1143.73,888.39 L1146.57,886.91 L1149.41,885.42 L1152.25,883.93 L1155.09,882.43 L1157.92,880.93 L1160.76,879.42 L1163.6,877.92 L1166.44,876.4 L1169.27,874.89 L1172.11,873.37 L1174.95,871.85 L1177.79,870.32 L1180.62,868.79 L1183.46,867.26 L1186.3,865.72 L1189.14,864.19 L1191.98,862.65 L1194.81,861.1" fill="none" stroke="#c000c0" stroke-width="3.6"/>
<path d="M772,1011.7 L774.84,1011.48 L777.68,1011.25 L780.51,1010.99 L783.35,1010.72 L786.19,1010.44 L789.03,1010.13 L791.86,1009.82 L794.7,1009.48 L797.54,1009.13 L800.38,1008.76 L803.21,1008.37 L806.05,1007.97 L808.89,1007.55 L811.73,1007.12 L814.57,1006.67 L817.4,1006.2 L820.24,1005.72 L823.08,1005.22 L825.92,1004.71 L828.75,1004.18 L831.59,1003.63 L834.43,1003.07 L837.27,1002.49 L840.1,1001.9 L842.94,1001.29 L845.78,1000.67 L848.62,1000.03 L851.45,999.37 L854.29,998.71 L857.13,998.02 L859.97,997.32 L862.81,996.61 L865.64,995.88 L868.48,995.13 L871.32,994.37 L874.16,993.6 L876.99,992.81 L879.83,992.01 L882.67,991.19 L885.51,990.35 L888.34,989.51 L891.18,988.65 L894.02,987.77 L896.86,986.88 L899.7,985.97 L902.53,985.06 L905.37,984.12 L908.21,983.18 L911.05,982.22 L913.88,981.24 L916.72,980.25 L919.56,979.25 L922.4,978.23 L925.23,977.2 L928.07,976.16 L930.91,975.1 L933.75,974.03 L936.58,972.95 L939.42,971.85 L942.26,970.74 L945.1,969.62 L947.94,968.48 L950.77,967.33 L953.61,966.17 L956.45,965 L959.29,963.81 L962.12,962.61 L964.96,961.39 L967.8,960.17 L970.64,958.93 L973.47,957.68 L976.31,956.41 L979.15,955.14 L981.99,953.85 L984.83,952.54 L987.66,951.23 L990.5,949.91 L993.34,948.57 L996.18,947.22 L999.01,945.86 L1001.85,944.48 L1004.69,943.1 L1007.53,941.7 L1010.36,940.29 L1013.2,938.87 L1016.04,937.44 L1018.88,935.99 L1021.72,934.54 L1024.55,933.07 L1027.39,931.59 L1030.23,930.1 L1033.07,928.6 L1035.9,927.09 L1038.74,925.57 L1041.58,924.03 L1044.42,922.49 L1047.25,920.93 L1050.09,919.37 L1052.93,917.79 L1055.77,916.2 L1058.6,914.6 L1061.44,912.99 L1064.28,911.37 L1067.12,909.74 L1069.96,908.1 L1072.79,906.45 L1075.63,904.79 L1078.47,903.12 L1081.31,901.44 L1084.14,899.74 L1086.98,898.04 L1089.82,896.33 L1092.66,894.61 L1095.49,892.88 L1098.33,891.14 L1101.17,889.39 L1104.01,887.63 L1106.85,885.86 L1109.68,884.08 L1112.52,882.29 L1115.36,880.49 L1118.2,878.68 L1121.03,876.86 L1123.87,875.04 L1126.71,873.2 L1129.55,871.36 L1132.38,869.51 L1135.22,867.64 L1138.06,865.77 L1140.9,863.89 L1143.73,862.01 L1146.57,860.11 L1149.41,858.2 L1152.25,856.29 L1155.09,854.37 L1157.92,852.43 L1160.76,850.5 L1163.6,848.55 L1166.44,846.59 L1169.27,844.63 L1172.11,842.66 L1174.95,840.68 L1177.79,838.69 L1180.62,836.69 L1183.46,834.69 L1186.3,832.68 L1189.14,830.66 L1191.98,828.63 L1194.81,826.59" fill="none" stroke="#c0c000" stroke-width="3.6"/>
<path d="M772,1011.7 L774.84,1011.55 L777.68,1011.37 L780.51,1011.15 L783.35,1010.9 L786.19,1010.61 L789.03,1010.29 L791.86,1009.94 L794.7,1009.55 L797.54,1009.13 L800.38,1008.68 L803.21,1008.19 L806.05,1007.67 L808.89,1007.12 L811.73,1006.54 L814.57,1005.92 L817.4,1005.27 L820.24,1004.59 L823.08,1003.88 L825.92,1003.14 L828.75,1002.36 L831.59,1001.56 L834.43,1000.72 L837.27,999.85 L840.1,998.96 L842.94,998.03 L845.78,997.07 L848.62,996.08 L851.45,995.06 L854.29,994.02 L857.13,992.94 L859.97,991.83 L862.81,990.7 L865.64,989.54 L868.48,988.34 L871.32,987.12 L874.16,985.87 L876.99,984.59 L879.83,983.29 L882.67,981.96 L885.51,980.6 L888.34,979.21 L891.18,977.79 L894.02,976.35 L896.86,974.88 L899.7,973.38 L902.53,971.86 L905.37,970.31 L908.21,968.74 L911.05,967.14 L913.88,965.51 L916.72,963.86 L919.56,962.19 L922.4,960.48 L925.23,958.76 L928.07,957 L930.91,955.23 L933.75,953.43 L936.58,951.6 L939.42,949.75 L942.26,947.88 L945.1,945.99 L947.94,944.07 L950.77,942.12 L953.61,940.16 L956.45,938.17 L959.29,936.16 L962.12,934.12 L964.96,932.07 L967.8,929.99 L970.64,927.89 L973.47,925.76 L976.31,923.62 L979.15,921.45 L981.99,919.27 L984.83,917.06 L987.66,914.83 L990.5,912.58 L993.34,910.31 L996.18,908.02 L999.01,905.71 L1001.85,903.38 L1004.69,901.03 L1007.53,898.66 L1010.36,896.27 L1013.2,893.87 L1016.04,891.44 L1018.88,888.99 L1021.72,886.53 L1024.55,884.05 L1027.39,881.55 L1030.23,879.03 L1033.07,876.49 L1035.9,873.93 L1038.74,871.36 L1041.58,868.77 L1044.42,866.17 L1047.25,863.54 L1050.09,860.9 L1052.93,858.25 L1055.77,855.57 L1058.6,852.88 L1061.44,850.18 L1064.28,847.46 L1067.12,844.72 L1069.96,841.97 L1072.79,839.2 L1075.63,836.42 L1078.47,833.62 L1081.31,830.81 L1084.14,827.98 L1086.98,825.14 L1089.82,822.28 L1092.66,819.41 L1095.49,816.53 L1098.33,813.63 L1101.17,810.72 L1104.01,807.8 L1106.85,804.86 L1109.68,801.92 L1112.52,798.95 L1115.36,795.98 L1118.2,792.99 L1121.03,789.99 L1123.87,786.98 L1126.71,783.96 L1129.55,780.93 L1132.38,777.88 L1135.22,774.82 L1138.06,771.76 L1140.9,768.68 L1143.73,765.59 L1146.57,762.49 L1149.41,759.38 L1152.25,756.26 L1155.09,753.13 L1157.92,749.99 L1160.76,746.84 L1163.6,743.68 L1166.44,740.52 L1169.27,737.34 L1172.11,734.16 L1174.95,730.96 L1177.79,727.76 L1180.62,724.55 L1183.46,721.33 L1186.3,718.11 L1189.14,714.87 L1191.98,711.63 L1194.81,708.38" fill="none" stroke="#ff8080" stroke-width="3.6"/>
<path d="M772,1011.7 L774.84,1011.61 L777.68,1011.49 L780.51,1011.36 L783.35,1011.21 L786.19,1011.04 L789.03,1010.85 L791.86,1010.64 L794.7,1010.42 L797.54,1010.17 L800.38,1009.91 L803.21,1009.62 L806.05,1009.32 L808.89,1009 L811.73,1008.67 L814.57,1008.31 L817.4,1007.94 L820.24,1007.55 L823.08,1007.14 L825.92,1006.72 L828.75,1006.28 L831.59,1005.82 L834.43,1005.35 L837.27,1004.85 L840.1,1004.35 L842.94,1003.82 L845.78,1003.28 L848.62,1002.72 L851.45,1002.15 L854.29,1001.56 L857.13,1000.95 L859.97,1000.33 L862.81,999.69 L865.64,999.04 L868.48,998.38 L871.32,997.69 L874.16,997 L876.99,996.28 L879.83,995.56 L882.67,994.81 L885.51,994.06 L888.34,993.29 L891.18,992.5 L894.02,991.7 L896.86,990.89 L899.7,990.06 L902.53,989.22 L905.37,988.37 L908.21,987.5 L911.05,986.62 L913.88,985.73 L916.72,984.82 L919.56,983.9 L922.4,982.97 L925.23,982.03 L928.07,981.07 L930.91,980.1 L933.75,979.12 L936.58,978.12 L939.42,977.12 L942.26,976.1 L945.1,975.07 L947.94,974.03 L950.77,972.97 L953.61,971.91 L956.45,970.84 L959.29,969.75 L962.12,968.65 L964.96,967.54 L967.8,966.43 L970.64,965.3 L973.47,964.16 L976.31,963.01 L979.15,961.85 L981.99,960.68 L984.83,959.5 L987.66,958.31 L990.5,957.11 L993.34,955.9 L996.18,954.68 L999.01,953.46 L1001.85,952.22 L1004.69,950.98 L1007.53,949.72 L1010.36,948.46 L1013.2,947.19 L1016.04,945.91 L1018.88,944.62 L1021.72,943.33 L1024.55,942.03 L1027.39,940.71 L1030.23,939.4 L1033.07,938.07 L1035.9,936.73 L1038.74,935.39 L1041.58,934.04 L1044.42,932.69 L1047.25,931.33 L1050.09,929.96 L1052.93,928.58 L1055.77,927.2 L1058.6,925.81 L1061.44,924.41 L1064.28,923.01 L1067.12,921.61 L1069.96,920.19 L1072.79,918.77 L1075.63,917.35 L1078.47,915.92 L1081.31,914.48 L1084.14,913.04 L1086.98,911.6 L1089.82,910.15 L1092.66,908.69 L1095.49,907.23 L1098.33,905.77 L1101.17,904.3 L1104.01,902.83 L1106.85,901.35 L1109.68,899.87 L1112.52,898.38 L1115.36,896.89 L1118.2,895.4 L1121.03,893.9 L1123.87,892.4 L1126.71,890.9 L1129.55,889.4 L1132.38,887.89 L1135.22,886.38 L1138.06,884.86 L1140.9,883.34 L1143.73,881.83 L1146.57,880.3 L1149.41,878.78 L1152.25,877.25 L1155.09,875.73 L1157.92,874.2 L1160.76,872.67 L1163.6,871.13 L1166.44,869.6 L1169.27,868.07 L1172.11,866.53 L1174.95,864.99 L1177.79,863.45 L1180.62,861.92 L1183.46,860.38 L1186.3,858.84 L1189.14,857.3 L1191.98,855.76 L1194.81,854.22" fill="none" stroke="#0000ff" stroke-width="3.6"/>
<path d="M772,1011.7 L774.84,1011.55 L777.68,1011.37 L780.51,1011.16 L783.35,1010.91 L786.19,1010.63 L789.03,1010.32 L791.86,1009.97 L794.7,1009.59 L797.54,1009.18 L800.38,1008.74 L803.21,1008.26 L806.05,1007.75 L808.89,1007.21 L811.73,1006.64 L814.57,1006.03 L817.4,1005.4 L820.24,1004.73 L823.08,1004.03 L825.92,1003.31 L828.75,1002.55 L831.59,1001.76 L834.43,1000.94 L837.27,1000.09 L840.1,999.21 L842.94,998.3 L845.78,997.36 L848.62,996.39 L851.45,995.39 L854.29,994.36 L857.13,993.31 L859.97,992.22 L862.81,991.11 L865.64,989.97 L868.48,988.8 L871.32,987.6 L874.16,986.38 L876.99,985.13 L879.83,983.85 L882.67,982.54 L885.51,981.2 L888.34,979.84 L891.18,978.46 L894.02,977.04 L896.86,975.6 L899.7,974.14 L902.53,972.64 L905.37,971.13 L908.21,969.58 L911.05,968.01 L913.88,966.42 L916.72,964.8 L919.56,963.16 L922.4,961.49 L925.23,959.79 L928.07,958.08 L930.91,956.34 L933.75,954.57 L936.58,952.78 L939.42,950.97 L942.26,949.13 L945.1,947.27 L947.94,945.39 L950.77,943.49 L953.61,941.56 L956.45,939.61 L959.29,937.64 L962.12,935.64 L964.96,933.63 L967.8,931.59 L970.64,929.53 L973.47,927.45 L976.31,925.35 L979.15,923.22 L981.99,921.08 L984.83,918.91 L987.66,916.73 L990.5,914.52 L993.34,912.3 L996.18,910.05 L999.01,907.79 L1001.85,905.51 L1004.69,903.2 L1007.53,900.88 L1010.36,898.54 L1013.2,896.18 L1016.04,893.8 L1018.88,891.4 L1021.72,888.98 L1024.55,886.55 L1027.39,884.1 L1030.23,881.63 L1033.07,879.14 L1035.9,876.64 L1038.74,874.11 L1041.58,871.58 L1044.42,869.02 L1047.25,866.45 L1050.09,863.86 L1052.93,861.25 L1055.77,858.63 L1058.6,856 L1061.44,853.34 L1064.28,850.68 L1067.12,847.99 L1069.96,845.3 L1072.79,842.58 L1075.63,839.85 L1078.47,837.11 L1081.31,834.35 L1084.14,831.58 L1086.98,828.8 L1089.82,826 L1092.66,823.18 L1095.49,820.36 L1098.33,817.52 L1101.17,814.66 L1104.01,811.8 L1106.85,808.92 L1109.68,806.03 L1112.52,803.12 L1115.36,800.21 L1118.2,797.28 L1121.03,794.34 L1123.87,791.39 L1126.71,788.43 L1129.55,785.45 L1132.38,782.47 L1135.22,779.47 L1138.06,776.46 L1140.9,773.44 L1143.73,770.41 L1146.57,767.38 L1149.41,764.33 L1152.25,761.27 L1155.09,758.2 L1157.92,755.12 L1160.76,752.04 L1163.6,748.94 L1166.44,745.83 L1169.27,742.72 L1172.11,739.6 L1174.95,736.47 L1177.79,733.33 L1180.62,730.18 L1183.46,727.03 L1186.3,723.86 L1189.14,720.69 L1191.98,717.51 L1194.81,714.33" fill="none" stroke="#000" stroke-width="4"/>
<rect x="770.2" y="624.3" width="3.6" height="389.3" fill="#000"/>
<rect x="770.2" y="1009.8" width="425.8" height="3.8" fill="#000"/>
<rect x="761.1" y="1009.8" width="10" height="3.8" fill="#000"/>
<rect x="761.1" y="913.45" width="10" height="3.8" fill="#000"/>
<rect x="761.1" y="817.1" width="10" height="3.8" fill="#000"/>
<rect x="761.1" y="720.75" width="10" height="3.8" fill="#000"/>
<rect x="761.1" y="624.4" width="10" height="3.8" fill="#000"/>
<rect x="770.2" y="1011" width="3.6" height="11.8" fill="#000"/>
<rect x="910.95" y="1011" width="3.6" height="11.8" fill="#000"/>
<rect x="1051.7" y="1011" width="3.6" height="11.8" fill="#000"/>
<rect x="1192.45" y="1011" width="3.6" height="11.8" fill="#000"/>
<text x="692.18" y="636.4" font-size="30.4" fill="#000" font-weight="bold" textLength="65.32" lengthAdjust="spacingAndGlyphs">2000</text>
<text x="692.06" y="732.75" font-size="30.4" fill="#000" font-weight="bold" textLength="65.15" lengthAdjust="spacingAndGlyphs">1500</text>
<text x="692.16" y="829.1" font-size="30.4" fill="#000" font-weight="bold" textLength="65.04" lengthAdjust="spacingAndGlyphs">1000</text>
<text x="708.61" y="925.45" font-size="30.4" fill="#000" font-weight="bold" textLength="48.07" lengthAdjust="spacingAndGlyphs">500</text>
<text x="741.46" y="1021.8" font-size="30.4" fill="#000" font-weight="bold" textLength="16.02" lengthAdjust="spacingAndGlyphs">0</text>
<text x="763.98" y="1055.4" font-size="30" fill="#000" font-weight="bold">0</text>
<text x="904.66" y="1055.4" font-size="30" fill="#000" font-weight="bold">5</text>
<text x="1036.79" y="1055.4" font-size="30" fill="#000" font-weight="bold">10</text>
<text x="1177.34" y="1055.4" font-size="30" fill="#000" font-weight="bold">15</text>
<text x="936.71" y="1111.3" font-size="39.83" fill="#000" >Time (s)</text>
<text transform="translate(682,911) rotate(-90)" x="-3.26" y="0" font-size="42.73" fill="#000" textLength="168.68" lengthAdjust="spacingAndGlyphs">MSD (µm</text>
<text transform="translate(669.7,744.5) rotate(-90)" x="-1.4" y="0" font-size="26.65" fill="#000" textLength="15.5" lengthAdjust="spacingAndGlyphs">2</text>
<text transform="translate(682,728.1) rotate(-90)" x="-0.18" y="0" font-size="42.73" fill="#000" textLength="10.05" lengthAdjust="spacingAndGlyphs">)</text>
<rect x="801.8" y="634.8" width="41.3" height="4" fill="#000"/>
<rect x="801.8" y="680.3" width="41.3" height="4" fill="#0000ff"/>
<rect x="801.8" y="732.3" width="41.3" height="4" fill="#ff8080"/>
<rect x="801.8" y="784.2" width="41.3" height="4" fill="#c0c000"/>
<rect x="801.8" y="836.4" width="41.3" height="4" fill="#c000c0"/>
<text x="873.26" y="643.5" font-size="32.7" fill="#000"  textLength="50.2" lengthAdjust="spacingAndGlyphs">Ctrl</text>
<text x="871.82" y="692.3" font-size="32.85" fill="#000" font-style="italic" textLength="67.06" lengthAdjust="spacingAndGlyphs">MC3</text>
<text x="945.87" y="692.3" font-size="32.85" fill="#000"  textLength="44.46" lengthAdjust="spacingAndGlyphs">KD</text>
<text x="871.83" y="740" font-size="32.85" fill="#000" font-style="italic" textLength="66.69" lengthAdjust="spacingAndGlyphs">MC5</text>
<text x="945.87" y="740" font-size="32.85" fill="#000"  textLength="44.46" lengthAdjust="spacingAndGlyphs">KD</text>
<text x="871.83" y="792.4" font-size="32.85" fill="#000" font-style="italic" textLength="66.66" lengthAdjust="spacingAndGlyphs">MC8</text>
<text x="946.09" y="792.4" font-size="32.85" fill="#000"  textLength="44.13" lengthAdjust="spacingAndGlyphs">KD</text>
<text x="871.83" y="844.1" font-size="32.85" fill="#000" font-style="italic" textLength="84.09" lengthAdjust="spacingAndGlyphs">MC15</text>
<text x="962.97" y="844.1" font-size="32.85" fill="#000"  textLength="44.46" lengthAdjust="spacingAndGlyphs">KD</text>
<text x="1255.34" y="588.2" font-size="40.12" fill="#000" font-weight="bold" textLength="28.73" lengthAdjust="spacingAndGlyphs">D</text>
<polygon points="1432,730 1434,708 1444.6,699 1452,690 1460,690 1465,700 1466,712 1469,731 1469,755 1462,768 1440,768 1432,755" fill="#5f5f5f" stroke="#5f5f5f" stroke-width="15" stroke-linejoin="round"/>
<circle cx="1464.1" cy="669.2" r="8.85" fill="none" stroke="#5f5f5f" stroke-width="4.9"/>
<circle cx="1437.1" cy="685.3" r="8.85" fill="none" stroke="#5f5f5f" stroke-width="4.9"/>
<circle cx="1458.1" cy="689.8" r="8.85" fill="none" stroke="#5f5f5f" stroke-width="4.9"/>
<circle cx="1442.3" cy="692.1" r="8.85" fill="none" stroke="#5f5f5f" stroke-width="4.9"/>
<circle cx="1436.3" cy="785.3" r="8.85" fill="none" stroke="#5f5f5f" stroke-width="4.9"/>
<circle cx="1465.6" cy="785.3" r="8.85" fill="none" stroke="#5f5f5f" stroke-width="4.9"/>
<circle cx="1438.6" cy="791.4" r="8.85" fill="none" stroke="#5f5f5f" stroke-width="4.9"/>
<circle cx="1455.1" cy="798.9" r="8.85" fill="none" stroke="#5f5f5f" stroke-width="4.9"/>
<circle cx="1446.1" cy="809.4" r="8.85" fill="none" stroke="#5f5f5f" stroke-width="4.9"/>
<circle cx="1435.6" cy="794.4" r="8.85" fill="none" stroke="#5f5f5f" stroke-width="4.9"/>
<circle cx="1436" cy="703" r="8.85" fill="none" stroke="#5f5f5f" stroke-width="4.9"/>
<circle cx="1465" cy="706" r="8.85" fill="none" stroke="#5f5f5f" stroke-width="4.9"/>
<circle cx="1434" cy="745" r="8.85" fill="none" stroke="#5f5f5f" stroke-width="4.9"/>
<circle cx="1468" cy="745" r="8.85" fill="none" stroke="#5f5f5f" stroke-width="4.9"/>
<circle cx="1448" cy="780" r="8.85" fill="none" stroke="#5f5f5f" stroke-width="4.9"/>
<circle cx="1457" cy="787" r="8.85" fill="none" stroke="#5f5f5f" stroke-width="4.9"/>
<circle cx="1444" cy="797" r="8.85" fill="none" stroke="#5f5f5f" stroke-width="4.9"/>
<circle cx="1452" cy="774" r="8.85" fill="none" stroke="#5f5f5f" stroke-width="4.9"/>
<polygon points="1512.9,702.9 1524,707 1537,700.4 1531,714 1538.2,724.5 1536.5,735 1530.7,746.8 1538.5,756.7 1530.5,774 1532.9,785.1 1530.8,793.8 1518.4,793.8 1518.8,783.9 1518.8,774 1511.4,756.7 1518.8,746.8 1513.8,731.9 1512.3,724.5 1517,714" fill="#5f5f5f" stroke="#5f5f5f" stroke-width="18" stroke-linejoin="round"/>
<circle cx="1525" cy="810.5" r="9" fill="#5f5f5f"/>
<polygon points="1574.7,698 1588,671.5 1594,684 1599.5,675.9 1604,684 1610.1,668.8 1623.3,698 1626,707.7 1622,712 1627,740 1627,752 1620,762 1618,775 1624.2,801.4 1619.8,812 1612.7,823.5 1586.2,823.5 1578,812 1573.8,801.4 1581.8,782 1576.5,762.5 1569.4,752 1572,726.3 1576,714" fill="#5f5f5f"/>
<polygon points="1588,687.75 1591.6,694.25 1584.4,694.25" fill="#fff"/>
<polygon points="1610.5,683.75 1614.1,690.25 1606.9,690.25" fill="#fff"/>
<polygon points="1613,696.75 1616.6,703.25 1609.4,703.25" fill="#fff"/>
<polygon points="1584.4,713.75 1588,720.25 1580.8,720.25" fill="#fff"/>
<polygon points="1605.7,715.25 1609.3,721.75 1602.1,721.75" fill="#fff"/>
<polygon points="1584.4,790.75 1588,797.25 1580.8,797.25" fill="#fff"/>
<polygon points="1598.6,791.75 1602.2,798.25 1595,798.25" fill="#fff"/>
<polygon points="1612.7,790.75 1616.3,797.25 1609.1,797.25" fill="#fff"/>
<path d="M1599.5,829.7 L1613.1,856.2 L1585.6,856.2 Z M1599.5,842 L1604,851 L1595,851 Z" fill="#5f5f5f" fill-rule="evenodd"/>
<polygon points="1673.5,677.8 1682,693 1685.5,689.8 1694.9,707.9 1689.5,715.3 1685.3,729.4 1689.5,743.6 1690.2,763.4 1696.6,780.3 1694.5,798 1688.8,805.8 1685.3,815.7 1682.4,821.3 1664.8,821.3 1661.2,806.5 1655.6,800.1 1652.7,794.5 1650.6,780.3 1654.1,754.9 1656.7,739.3 1659.1,729.4 1655.6,714.6 1652.4,710.3 1661.5,692.6 1665,697" fill="#5f5f5f"/>
<polygon points="1666,696.2 1681.5,696.2 1673.5,711.5" fill="#fff"/>
<polygon points="1723.3,680.3 1735,668.6 1748.8,678.2 1760.5,665.5 1773.2,678.2 1770,689.9 1763.7,703.7 1767.9,714.3 1765.8,724.9 1770,739.7 1763.7,754.6 1774.3,775.8 1763.7,788.5 1755.2,799.2 1772.1,816.1 1748.8,842.6 1729.7,822.5 1723.3,811.9 1735,801.3 1721.2,775.8 1729.7,758.8 1725.5,739.7 1729.7,720.6 1734,703.7 1731.8,695.2" fill="#5f5f5f"/>
<rect x="1732.5" y="677.8" width="5" height="5" fill="#fff" transform="rotate(45 1735 680.3)"/>
<rect x="1739.9" y="688.4" width="5" height="5" fill="#fff" transform="rotate(45 1742.4 690.9)"/>
<rect x="1759" y="679.9" width="5" height="5" fill="#fff" transform="rotate(45 1761.5 682.4)"/>
<rect x="1748.4" y="796.7" width="5" height="5" fill="#fff" transform="rotate(45 1750.9 799.2)"/>
<rect x="1732.5" y="809.4" width="5" height="5" fill="#fff" transform="rotate(45 1735 811.9)"/>
<rect x="1738.9" y="818.9" width="5" height="5" fill="#fff" transform="rotate(45 1741.4 821.4)"/>
<rect x="1759" y="813.6" width="5" height="5" fill="#fff" transform="rotate(45 1761.5 816.1)"/>
<rect x="1745.2" y="830.6" width="5" height="5" fill="#fff" transform="rotate(45 1747.7 833.1)"/>
<path d="M1735,640.2 L1748,653.2 L1735,666.2 L1722,653.2 Z M1735,647.6 L1729.4,653.2 L1735,658.8 L1740.6,653.2 Z" fill="#5f5f5f" fill-rule="evenodd"/>
<polygon points="1799.7,716.4 1808.2,707.9 1818.8,718.5 1835.8,701.5 1845.4,710 1840,720.6 1845.4,731.2 1837.9,746.1 1841.1,758.8 1835.8,771.6 1846.4,790.7 1839,801.3 1840,809.8 1825.2,822.5 1810.3,809.8 1804,801.3 1798.7,790.7 1812.5,775.8 1806.1,758.8 1801.9,741.9 1799.7,731.2" fill="#5f5f5f"/>
<rect x="1801.2" y="832.5" width="14" height="14" fill="#5f5f5f" transform="rotate(45 1808.2 839.5)"/>
<rect x="1828.8" y="826.1" width="14" height="14" fill="#5f5f5f" transform="rotate(45 1835.8 833.1)"/>
<rect x="1820.3" y="838.8" width="14" height="14" fill="#5f5f5f" transform="rotate(45 1827.3 845.8)"/>
<rect x="1809.3" y="851.1" width="14" height="14" fill="#5f5f5f" transform="rotate(45 1816.3 858.1)"/>
<polygon points="1873.2,705.2 1895.6,704.6 1895.6,716.2 1919.3,716 1920.7,718.4 1920.7,741.8 1924.4,741.8 1923.7,771.1 1917.8,775.5 1922.2,777 1922.2,807.7 1917.8,812.1 1910.5,820.9 1882.7,820.9 1875.4,810.6 1871,807.7 1871,778.4 1872.4,774 1869.5,768.2 1869.2,741.8 1871.7,738.9" fill="#5f5f5f"/>
<rect x="1887.6" y="681.3" width="18.2" height="17.5" fill="none" stroke="#5f5f5f" stroke-width="5.2"/>
<rect x="1898.2" y="694.9" width="19.2" height="18.1" fill="none" stroke="#5f5f5f" stroke-width="5.2"/>
<rect x="1879" y="710" width="5.5" height="3.6" fill="#fff"/>
<rect x="1899" y="716.5" width="5" height="2" fill="#fff"/>
<rect x="1949.3" y="694" width="18.3" height="36.1" fill="#5f5f5f"/>
<rect x="1974.2" y="705.5" width="18.5" height="18.5" fill="#5f5f5f"/>
<polygon points="1955.9,734.5 1973.4,734.5 1973.4,727.2 1992.4,727.2 1992.4,745.5 1988,746.2 1988,771.1 1991,774 1993.9,781.3 1995.4,808.5 1996,808.5 1996,827.6 1994.3,829.8 1994.3,850 1985.8,851 1985.8,869 1974.1,869 1974.1,876.9 1955.7,876.9 1955.7,858.4 1948,853.5 1948,835 1958.2,834 1958.2,829.6 1946.3,829.6 1946.3,804.8 1950.7,774.8 1954.4,766.7 1952.9,746.2" fill="#5f5f5f"/>
<rect x="1419.9" y="740" width="61.6" height="6" fill="#000"/>
<rect x="1447.7" y="709.5" width="6" height="67.2" fill="#000"/>
<rect x="1444.4" y="709.5" width="12.6" height="5.8" fill="#000"/>
<rect x="1444.4" y="770.9" width="12.6" height="5.8" fill="#000"/>
<rect x="1447.7" y="1010" width="6" height="4" fill="#000"/>
<rect x="1494" y="748.2" width="61.6" height="6" fill="#000"/>
<rect x="1521.8" y="724" width="6" height="55" fill="#000"/>
<rect x="1518.5" y="724" width="12.6" height="5.8" fill="#000"/>
<rect x="1518.5" y="773.2" width="12.6" height="5.8" fill="#000"/>
<rect x="1521.8" y="1010" width="6" height="4" fill="#000"/>
<rect x="1568.2" y="754" width="61.6" height="6" fill="#000"/>
<rect x="1596" y="722" width="6" height="69.8" fill="#000"/>
<rect x="1592.7" y="722" width="12.6" height="5.8" fill="#000"/>
<rect x="1592.7" y="786" width="12.6" height="5.8" fill="#000"/>
<rect x="1596" y="1010" width="6" height="4" fill="#000"/>
<rect x="1642.9" y="751.3" width="61.6" height="6" fill="#000"/>
<rect x="1670.7" y="720.7" width="6" height="67.1" fill="#000"/>
<rect x="1667.4" y="720.7" width="12.6" height="5.8" fill="#000"/>
<rect x="1667.4" y="782" width="12.6" height="5.8" fill="#000"/>
<rect x="1670.7" y="1010" width="6" height="4" fill="#000"/>
<rect x="1717.1" y="744.7" width="61.6" height="6" fill="#000"/>
<rect x="1744.9" y="706" width="6" height="83.8" fill="#000"/>
<rect x="1741.6" y="706" width="12.6" height="5.8" fill="#000"/>
<rect x="1741.6" y="784" width="12.6" height="5.8" fill="#000"/>
<rect x="1744.9" y="1010" width="6" height="4" fill="#000"/>
<rect x="1791.6" y="766" width="61.6" height="6" fill="#000"/>
<rect x="1819.4" y="733" width="6" height="72.5" fill="#000"/>
<rect x="1816.1" y="733" width="12.6" height="5.8" fill="#000"/>
<rect x="1816.1" y="799.7" width="12.6" height="5.8" fill="#000"/>
<rect x="1819.4" y="1010" width="6" height="4" fill="#000"/>
<rect x="1866.2" y="760" width="61.6" height="6" fill="#000"/>
<rect x="1894" y="731.6" width="6" height="62.9" fill="#000"/>
<rect x="1890.7" y="731.6" width="12.6" height="5.8" fill="#000"/>
<rect x="1890.7" y="788.7" width="12.6" height="5.8" fill="#000"/>
<rect x="1894" y="1010" width="6" height="4" fill="#000"/>
<rect x="1940.4" y="783.5" width="61.6" height="6" fill="#000"/>
<rect x="1968.2" y="748" width="6" height="76.5" fill="#000"/>
<rect x="1964.9" y="748" width="12.6" height="5.8" fill="#000"/>
<rect x="1964.9" y="818.7" width="12.6" height="5.8" fill="#000"/>
<rect x="1968.2" y="1010" width="6" height="4" fill="#000"/>
<rect x="1398.2" y="605.6" width="5.9" height="406.4" fill="#000"/>
<rect x="1383.6" y="1005.8" width="642.5" height="6.1" fill="#000"/>
<rect x="1383.9" y="872.5" width="17" height="6" fill="#000"/>
<rect x="1383.9" y="739" width="17" height="6" fill="#000"/>
<rect x="1383.9" y="605.5" width="17" height="6" fill="#000"/>
<text x="1335.77" y="619.2" font-size="38.4" fill="#000" font-weight="bold" textLength="40.42" lengthAdjust="spacingAndGlyphs">30</text>
<text x="1335.33" y="753.3" font-size="38.4" fill="#000" font-weight="bold" textLength="40.88" lengthAdjust="spacingAndGlyphs">20</text>
<text x="1335.18" y="886.8" font-size="38.4" fill="#000" font-weight="bold">10</text>
<text x="1355.72" y="1020.4" font-size="38.4" fill="#000" font-weight="bold" textLength="22.22" lengthAdjust="spacingAndGlyphs">0</text>
<text transform="translate(1299.6,951.8) rotate(-90)" x="-3.17" y="0" font-size="39.1" fill="#000" textLength="284.67" lengthAdjust="spacingAndGlyphs">PFR length (µm)</text>
<path d="M1441.8,625.9 L1441.8,612.9 Q1441.8,608.9 1445.8,608.9 L1515.5,608.9 Q1519.5,608.9 1519.5,612.9 L1519.5,625.9" fill="none" stroke="#000" stroke-width="4.2"/>
<path d="M1582.4,625.9 L1582.4,612.9 Q1582.4,608.9 1586.4,608.9 L1656,608.9 Q1660,608.9 1660,612.9 L1660,625.9" fill="none" stroke="#000" stroke-width="4.2"/>
<path d="M1740.5,625.9 L1740.5,612.9 Q1740.5,608.9 1744.5,608.9 L1814.6,608.9 Q1818.6,608.9 1818.6,612.9 L1818.6,625.9" fill="none" stroke="#000" stroke-width="4.2"/>
<path d="M1892.2,622.2 L1892.2,609.1 Q1892.2,605.1 1896.2,605.1 L1966,605.1 Q1970,605.1 1970,609.1 L1970,622.2" fill="none" stroke="#000" stroke-width="4.2"/>
<text x="1460.21" y="597.3" font-size="34" fill="#000"  textLength="34.89" lengthAdjust="spacingAndGlyphs">ns</text>
<text x="1598.86" y="597.3" font-size="34" fill="#000"  textLength="34.11" lengthAdjust="spacingAndGlyphs">ns</text>
<text x="1763.87" y="604.9" font-size="37.6" fill="#000" >*</text>
<text x="1784.37" y="604.9" font-size="37.6" fill="#000" >*</text>
<text x="1906.17" y="604.9" font-size="37.6" fill="#000" >*</text>
<text x="1925.97" y="604.9" font-size="37.6" fill="#000" >*</text>
<text x="1945.17" y="604.9" font-size="37.6" fill="#000" >*</text>
<text x="1431.76" y="1056.8" font-size="33.28" fill="#000"  textLength="50.2" lengthAdjust="spacingAndGlyphs">Ctrl</text>
<text x="1505.85" y="1056.8" font-size="33.28" fill="#000"  textLength="44.9" lengthAdjust="spacingAndGlyphs">KD</text>
<text x="1578.24" y="1056.8" font-size="33.28" fill="#000"  textLength="50.74" lengthAdjust="spacingAndGlyphs">Ctrl</text>
<text x="1652.65" y="1056.8" font-size="33.28" fill="#000"  textLength="44.9" lengthAdjust="spacingAndGlyphs">KD</text>
<text x="1723.94" y="1056.8" font-size="33.28" fill="#000"  textLength="50.85" lengthAdjust="spacingAndGlyphs">Ctrl</text>
<text x="1801.86" y="1056.8" font-size="33.28" fill="#000"  textLength="44.79" lengthAdjust="spacingAndGlyphs">KD</text>
<text x="1869.95" y="1056.8" font-size="33.28" fill="#000"  textLength="50.41" lengthAdjust="spacingAndGlyphs">Ctrl</text>
<text x="1941.87" y="1056.8" font-size="33.28" fill="#000"  textLength="44.46" lengthAdjust="spacingAndGlyphs">KD</text>
<rect x="1433.4" y="1071" width="126.6" height="2" fill="#000"/>
<rect x="1579.9" y="1071" width="126" height="2" fill="#000"/>
<rect x="1723.6" y="1071" width="123.2" height="2" fill="#000"/>
<rect x="1863" y="1071" width="126.4" height="2" fill="#000"/>
<text x="1461.93" y="1116" font-size="32.56" fill="#000" font-style="italic" textLength="66.75" lengthAdjust="spacingAndGlyphs">MC3</text>
<text x="1606.64" y="1116" font-size="32.56" fill="#000" font-style="italic" textLength="66.09" lengthAdjust="spacingAndGlyphs">MC5</text>
<text x="1746.83" y="1116" font-size="32.56" fill="#000" font-style="italic" textLength="66.35" lengthAdjust="spacingAndGlyphs">MC8</text>
<text x="1884.24" y="1116" font-size="32.56" fill="#000" font-style="italic" textLength="83.39" lengthAdjust="spacingAndGlyphs">MC15</text>
</svg>
</body></html>
